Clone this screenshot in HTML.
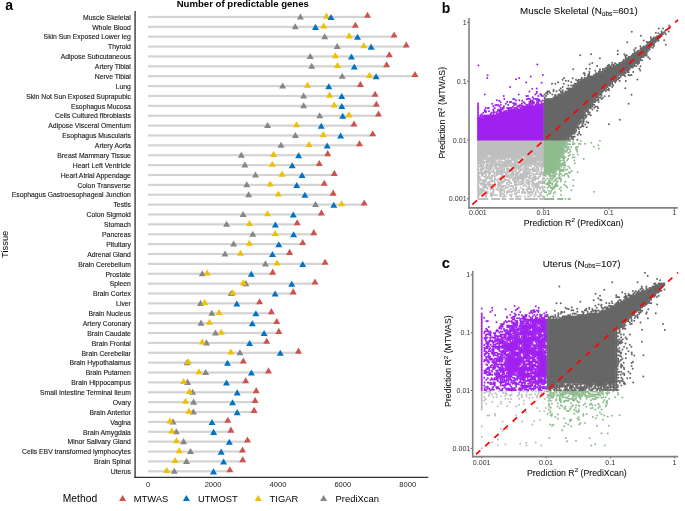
<!DOCTYPE html>
<html><head><meta charset="utf-8"><style>
html,body{margin:0;padding:0;background:#fff;}
svg{display:block;will-change:transform;}
</style></head><body>
<svg width="685" height="511" viewBox="0 0 685 511">
<rect width="685" height="511" fill="#fff"/>
<text x="5.2" y="9.7" font-family="Liberation Sans, sans-serif" font-size="14" font-weight="bold">a</text>
<text x="242.8" y="6.5" font-family="Liberation Sans, sans-serif" font-size="9.6" font-weight="bold" text-anchor="middle">Number of predictable genes</text>
<text x="130.9" y="19.70" font-family="Liberation Sans, sans-serif" font-size="6.84" text-anchor="end" fill="#1a1a1a" stroke="#1a1a1a" stroke-width="0.12">Muscle Skeletal</text>
<text x="130.9" y="29.58" font-family="Liberation Sans, sans-serif" font-size="6.84" text-anchor="end" fill="#1a1a1a" stroke="#1a1a1a" stroke-width="0.12">Whole Blood</text>
<text x="130.9" y="39.45" font-family="Liberation Sans, sans-serif" font-size="6.84" text-anchor="end" fill="#1a1a1a" stroke="#1a1a1a" stroke-width="0.12">Skin Sun Exposed Lower leg</text>
<text x="130.9" y="49.33" font-family="Liberation Sans, sans-serif" font-size="6.84" text-anchor="end" fill="#1a1a1a" stroke="#1a1a1a" stroke-width="0.12">Thyroid</text>
<text x="130.9" y="59.21" font-family="Liberation Sans, sans-serif" font-size="6.84" text-anchor="end" fill="#1a1a1a" stroke="#1a1a1a" stroke-width="0.12">Adipose Subcutaneous</text>
<text x="130.9" y="69.09" font-family="Liberation Sans, sans-serif" font-size="6.84" text-anchor="end" fill="#1a1a1a" stroke="#1a1a1a" stroke-width="0.12">Artery Tibial</text>
<text x="130.9" y="78.96" font-family="Liberation Sans, sans-serif" font-size="6.84" text-anchor="end" fill="#1a1a1a" stroke="#1a1a1a" stroke-width="0.12">Nerve Tibial</text>
<text x="130.9" y="88.84" font-family="Liberation Sans, sans-serif" font-size="6.84" text-anchor="end" fill="#1a1a1a" stroke="#1a1a1a" stroke-width="0.12">Lung</text>
<text x="130.9" y="98.72" font-family="Liberation Sans, sans-serif" font-size="6.84" text-anchor="end" fill="#1a1a1a" stroke="#1a1a1a" stroke-width="0.12">Skin Not Sun Exposed Suprapubic</text>
<text x="130.9" y="108.59" font-family="Liberation Sans, sans-serif" font-size="6.84" text-anchor="end" fill="#1a1a1a" stroke="#1a1a1a" stroke-width="0.12">Esophagus Mucosa</text>
<text x="130.9" y="118.47" font-family="Liberation Sans, sans-serif" font-size="6.84" text-anchor="end" fill="#1a1a1a" stroke="#1a1a1a" stroke-width="0.12">Cells Cultured fibroblasts</text>
<text x="130.9" y="128.35" font-family="Liberation Sans, sans-serif" font-size="6.84" text-anchor="end" fill="#1a1a1a" stroke="#1a1a1a" stroke-width="0.12">Adipose Visceral Omentum</text>
<text x="130.9" y="138.22" font-family="Liberation Sans, sans-serif" font-size="6.84" text-anchor="end" fill="#1a1a1a" stroke="#1a1a1a" stroke-width="0.12">Esophagus Muscularis</text>
<text x="130.9" y="148.10" font-family="Liberation Sans, sans-serif" font-size="6.84" text-anchor="end" fill="#1a1a1a" stroke="#1a1a1a" stroke-width="0.12">Artery Aorta</text>
<text x="130.9" y="157.98" font-family="Liberation Sans, sans-serif" font-size="6.84" text-anchor="end" fill="#1a1a1a" stroke="#1a1a1a" stroke-width="0.12">Breast Mammary Tissue</text>
<text x="130.9" y="167.85" font-family="Liberation Sans, sans-serif" font-size="6.84" text-anchor="end" fill="#1a1a1a" stroke="#1a1a1a" stroke-width="0.12">Heart Left Ventricle</text>
<text x="130.9" y="177.73" font-family="Liberation Sans, sans-serif" font-size="6.84" text-anchor="end" fill="#1a1a1a" stroke="#1a1a1a" stroke-width="0.12">Heart Atrial Appendage</text>
<text x="130.9" y="187.61" font-family="Liberation Sans, sans-serif" font-size="6.84" text-anchor="end" fill="#1a1a1a" stroke="#1a1a1a" stroke-width="0.12">Colon Transverse</text>
<text x="130.9" y="197.49" font-family="Liberation Sans, sans-serif" font-size="6.84" text-anchor="end" fill="#1a1a1a" stroke="#1a1a1a" stroke-width="0.12">Esophagus Gastroesophageal Junction</text>
<text x="130.9" y="207.36" font-family="Liberation Sans, sans-serif" font-size="6.84" text-anchor="end" fill="#1a1a1a" stroke="#1a1a1a" stroke-width="0.12">Testis</text>
<text x="130.9" y="217.24" font-family="Liberation Sans, sans-serif" font-size="6.84" text-anchor="end" fill="#1a1a1a" stroke="#1a1a1a" stroke-width="0.12">Colon Sigmoid</text>
<text x="130.9" y="227.12" font-family="Liberation Sans, sans-serif" font-size="6.84" text-anchor="end" fill="#1a1a1a" stroke="#1a1a1a" stroke-width="0.12">Stomach</text>
<text x="130.9" y="236.99" font-family="Liberation Sans, sans-serif" font-size="6.84" text-anchor="end" fill="#1a1a1a" stroke="#1a1a1a" stroke-width="0.12">Pancreas</text>
<text x="130.9" y="246.87" font-family="Liberation Sans, sans-serif" font-size="6.84" text-anchor="end" fill="#1a1a1a" stroke="#1a1a1a" stroke-width="0.12">Pituitary</text>
<text x="130.9" y="256.75" font-family="Liberation Sans, sans-serif" font-size="6.84" text-anchor="end" fill="#1a1a1a" stroke="#1a1a1a" stroke-width="0.12">Adrenal Gland</text>
<text x="130.9" y="266.62" font-family="Liberation Sans, sans-serif" font-size="6.84" text-anchor="end" fill="#1a1a1a" stroke="#1a1a1a" stroke-width="0.12">Brain Cerebellum</text>
<text x="130.9" y="276.50" font-family="Liberation Sans, sans-serif" font-size="6.84" text-anchor="end" fill="#1a1a1a" stroke="#1a1a1a" stroke-width="0.12">Prostate</text>
<text x="130.9" y="286.38" font-family="Liberation Sans, sans-serif" font-size="6.84" text-anchor="end" fill="#1a1a1a" stroke="#1a1a1a" stroke-width="0.12">Spleen</text>
<text x="130.9" y="296.26" font-family="Liberation Sans, sans-serif" font-size="6.84" text-anchor="end" fill="#1a1a1a" stroke="#1a1a1a" stroke-width="0.12">Brain Cortex</text>
<text x="130.9" y="306.13" font-family="Liberation Sans, sans-serif" font-size="6.84" text-anchor="end" fill="#1a1a1a" stroke="#1a1a1a" stroke-width="0.12">Liver</text>
<text x="130.9" y="316.01" font-family="Liberation Sans, sans-serif" font-size="6.84" text-anchor="end" fill="#1a1a1a" stroke="#1a1a1a" stroke-width="0.12">Brain Nucleus</text>
<text x="130.9" y="325.89" font-family="Liberation Sans, sans-serif" font-size="6.84" text-anchor="end" fill="#1a1a1a" stroke="#1a1a1a" stroke-width="0.12">Artery Coronary</text>
<text x="130.9" y="335.76" font-family="Liberation Sans, sans-serif" font-size="6.84" text-anchor="end" fill="#1a1a1a" stroke="#1a1a1a" stroke-width="0.12">Brain Caudate</text>
<text x="130.9" y="345.64" font-family="Liberation Sans, sans-serif" font-size="6.84" text-anchor="end" fill="#1a1a1a" stroke="#1a1a1a" stroke-width="0.12">Brain Frontal</text>
<text x="130.9" y="355.52" font-family="Liberation Sans, sans-serif" font-size="6.84" text-anchor="end" fill="#1a1a1a" stroke="#1a1a1a" stroke-width="0.12">Brain Cerebellar</text>
<text x="130.9" y="365.40" font-family="Liberation Sans, sans-serif" font-size="6.84" text-anchor="end" fill="#1a1a1a" stroke="#1a1a1a" stroke-width="0.12">Brain Hypothalamus</text>
<text x="130.9" y="375.27" font-family="Liberation Sans, sans-serif" font-size="6.84" text-anchor="end" fill="#1a1a1a" stroke="#1a1a1a" stroke-width="0.12">Brain Putamen</text>
<text x="130.9" y="385.15" font-family="Liberation Sans, sans-serif" font-size="6.84" text-anchor="end" fill="#1a1a1a" stroke="#1a1a1a" stroke-width="0.12">Brain Hippocampus</text>
<text x="130.9" y="395.03" font-family="Liberation Sans, sans-serif" font-size="6.84" text-anchor="end" fill="#1a1a1a" stroke="#1a1a1a" stroke-width="0.12">Small Intestine Terminal Ileum</text>
<text x="130.9" y="404.90" font-family="Liberation Sans, sans-serif" font-size="6.84" text-anchor="end" fill="#1a1a1a" stroke="#1a1a1a" stroke-width="0.12">Ovary</text>
<text x="130.9" y="414.78" font-family="Liberation Sans, sans-serif" font-size="6.84" text-anchor="end" fill="#1a1a1a" stroke="#1a1a1a" stroke-width="0.12">Brain Anterior</text>
<text x="130.9" y="424.66" font-family="Liberation Sans, sans-serif" font-size="6.84" text-anchor="end" fill="#1a1a1a" stroke="#1a1a1a" stroke-width="0.12">Vagina</text>
<text x="130.9" y="434.53" font-family="Liberation Sans, sans-serif" font-size="6.84" text-anchor="end" fill="#1a1a1a" stroke="#1a1a1a" stroke-width="0.12">Brain Amygdala</text>
<text x="130.9" y="444.41" font-family="Liberation Sans, sans-serif" font-size="6.84" text-anchor="end" fill="#1a1a1a" stroke="#1a1a1a" stroke-width="0.12">Minor Salivary Gland</text>
<text x="130.9" y="454.29" font-family="Liberation Sans, sans-serif" font-size="6.84" text-anchor="end" fill="#1a1a1a" stroke="#1a1a1a" stroke-width="0.12">Cells EBV transformed lymphocytes</text>
<text x="130.9" y="464.17" font-family="Liberation Sans, sans-serif" font-size="6.84" text-anchor="end" fill="#1a1a1a" stroke="#1a1a1a" stroke-width="0.12">Brain Spinal</text>
<text x="130.9" y="474.04" font-family="Liberation Sans, sans-serif" font-size="6.84" text-anchor="end" fill="#1a1a1a" stroke="#1a1a1a" stroke-width="0.12">Uterus</text>
<rect x="148.1" y="15.85" width="219.40" height="2.2" fill="#d3d3d3"/>
<rect x="148.1" y="25.73" width="207.30" height="2.2" fill="#d3d3d3"/>
<rect x="148.1" y="35.60" width="246.00" height="2.2" fill="#d3d3d3"/>
<rect x="148.1" y="45.48" width="258.20" height="2.2" fill="#d3d3d3"/>
<rect x="148.1" y="55.36" width="241.20" height="2.2" fill="#d3d3d3"/>
<rect x="148.1" y="65.24" width="238.50" height="2.2" fill="#d3d3d3"/>
<rect x="148.1" y="75.11" width="266.90" height="2.2" fill="#d3d3d3"/>
<rect x="148.1" y="84.99" width="212.30" height="2.2" fill="#d3d3d3"/>
<rect x="148.1" y="94.87" width="227.00" height="2.2" fill="#d3d3d3"/>
<rect x="148.1" y="104.74" width="228.30" height="2.2" fill="#d3d3d3"/>
<rect x="148.1" y="114.62" width="230.40" height="2.2" fill="#d3d3d3"/>
<rect x="148.1" y="124.50" width="205.90" height="2.2" fill="#d3d3d3"/>
<rect x="148.1" y="134.37" width="224.60" height="2.2" fill="#d3d3d3"/>
<rect x="148.1" y="144.25" width="211.40" height="2.2" fill="#d3d3d3"/>
<rect x="148.1" y="154.13" width="179.60" height="2.2" fill="#d3d3d3"/>
<rect x="148.1" y="164.00" width="171.20" height="2.2" fill="#d3d3d3"/>
<rect x="148.1" y="173.88" width="186.20" height="2.2" fill="#d3d3d3"/>
<rect x="148.1" y="183.76" width="176.20" height="2.2" fill="#d3d3d3"/>
<rect x="148.1" y="193.64" width="185.10" height="2.2" fill="#d3d3d3"/>
<rect x="148.1" y="203.51" width="216.10" height="2.2" fill="#d3d3d3"/>
<rect x="148.1" y="213.39" width="173.30" height="2.2" fill="#d3d3d3"/>
<rect x="148.1" y="223.27" width="149.10" height="2.2" fill="#d3d3d3"/>
<rect x="148.1" y="233.14" width="165.70" height="2.2" fill="#d3d3d3"/>
<rect x="148.1" y="243.02" width="154.60" height="2.2" fill="#d3d3d3"/>
<rect x="148.1" y="252.90" width="141.50" height="2.2" fill="#d3d3d3"/>
<rect x="148.1" y="262.77" width="177.00" height="2.2" fill="#d3d3d3"/>
<rect x="148.1" y="272.65" width="124.60" height="2.2" fill="#d3d3d3"/>
<rect x="148.1" y="282.53" width="166.90" height="2.2" fill="#d3d3d3"/>
<rect x="148.1" y="292.41" width="145.10" height="2.2" fill="#d3d3d3"/>
<rect x="148.1" y="302.28" width="111.50" height="2.2" fill="#d3d3d3"/>
<rect x="148.1" y="312.16" width="123.30" height="2.2" fill="#d3d3d3"/>
<rect x="148.1" y="322.04" width="128.60" height="2.2" fill="#d3d3d3"/>
<rect x="148.1" y="331.91" width="130.70" height="2.2" fill="#d3d3d3"/>
<rect x="148.1" y="341.79" width="118.60" height="2.2" fill="#d3d3d3"/>
<rect x="148.1" y="351.67" width="150.40" height="2.2" fill="#d3d3d3"/>
<rect x="148.1" y="361.55" width="95.20" height="2.2" fill="#d3d3d3"/>
<rect x="148.1" y="371.42" width="120.40" height="2.2" fill="#d3d3d3"/>
<rect x="148.1" y="381.30" width="97.60" height="2.2" fill="#d3d3d3"/>
<rect x="148.1" y="391.18" width="108.10" height="2.2" fill="#d3d3d3"/>
<rect x="148.1" y="401.05" width="107.00" height="2.2" fill="#d3d3d3"/>
<rect x="148.1" y="410.93" width="106.00" height="2.2" fill="#d3d3d3"/>
<rect x="148.1" y="420.81" width="79.70" height="2.2" fill="#d3d3d3"/>
<rect x="148.1" y="430.68" width="82.80" height="2.2" fill="#d3d3d3"/>
<rect x="148.1" y="440.56" width="99.40" height="2.2" fill="#d3d3d3"/>
<rect x="148.1" y="450.44" width="94.40" height="2.2" fill="#d3d3d3"/>
<rect x="148.1" y="460.31" width="94.60" height="2.2" fill="#d3d3d3"/>
<rect x="148.1" y="470.19" width="81.80" height="2.2" fill="#d3d3d3"/>
<path d="M296.90 19.45L303.90 19.45L300.40 13.39Z" fill="#868686"/>
<path d="M323.10 18.65L330.10 18.65L326.60 12.59Z" fill="#EFC000"/>
<path d="M327.50 20.05L334.50 20.05L331.00 13.99Z" fill="#0073C2"/>
<path d="M364.00 17.85L371.00 17.85L367.50 11.79Z" fill="#CD534C"/>
<path d="M291.70 29.33L298.70 29.33L295.20 23.27Z" fill="#868686"/>
<path d="M320.10 28.53L327.10 28.53L323.60 22.47Z" fill="#EFC000"/>
<path d="M312.00 29.93L319.00 29.93L315.50 23.87Z" fill="#0073C2"/>
<path d="M351.90 27.73L358.90 27.73L355.40 21.67Z" fill="#CD534C"/>
<path d="M321.20 39.20L328.20 39.20L324.70 33.14Z" fill="#868686"/>
<path d="M345.70 38.40L352.70 38.40L349.20 32.34Z" fill="#EFC000"/>
<path d="M354.00 39.80L361.00 39.80L357.50 33.74Z" fill="#0073C2"/>
<path d="M390.60 37.60L397.60 37.60L394.10 31.54Z" fill="#CD534C"/>
<path d="M333.70 49.08L340.70 49.08L337.20 43.02Z" fill="#868686"/>
<path d="M360.30 48.28L367.30 48.28L363.80 42.22Z" fill="#EFC000"/>
<path d="M367.60 49.68L374.60 49.68L371.10 43.62Z" fill="#0073C2"/>
<path d="M402.80 47.48L409.80 47.48L406.30 41.42Z" fill="#CD534C"/>
<path d="M306.70 58.96L313.70 58.96L310.20 52.90Z" fill="#868686"/>
<path d="M331.90 58.16L338.90 58.16L335.40 52.10Z" fill="#EFC000"/>
<path d="M347.90 59.56L354.90 59.56L351.40 53.50Z" fill="#0073C2"/>
<path d="M385.80 57.36L392.80 57.36L389.30 51.30Z" fill="#CD534C"/>
<path d="M308.20 68.84L315.20 68.84L311.70 62.78Z" fill="#868686"/>
<path d="M334.00 68.04L341.00 68.04L337.50 61.98Z" fill="#EFC000"/>
<path d="M350.80 69.44L357.80 69.44L354.30 63.38Z" fill="#0073C2"/>
<path d="M383.10 67.24L390.10 67.24L386.60 61.18Z" fill="#CD534C"/>
<path d="M338.70 78.71L345.70 78.71L342.20 72.65Z" fill="#868686"/>
<path d="M366.00 77.91L373.00 77.91L369.50 71.85Z" fill="#EFC000"/>
<path d="M372.60 79.31L379.60 79.31L376.10 73.25Z" fill="#0073C2"/>
<path d="M411.50 77.11L418.50 77.11L415.00 71.05Z" fill="#CD534C"/>
<path d="M279.10 88.59L286.10 88.59L282.60 82.53Z" fill="#868686"/>
<path d="M304.00 87.79L311.00 87.79L307.50 81.73Z" fill="#EFC000"/>
<path d="M325.30 89.19L332.30 89.19L328.80 83.13Z" fill="#0073C2"/>
<path d="M356.90 86.99L363.90 86.99L360.40 80.93Z" fill="#CD534C"/>
<path d="M300.10 98.47L307.10 98.47L303.60 92.41Z" fill="#868686"/>
<path d="M326.10 97.67L333.10 97.67L329.60 91.61Z" fill="#EFC000"/>
<path d="M338.20 99.07L345.20 99.07L341.70 93.01Z" fill="#0073C2"/>
<path d="M371.60 96.87L378.60 96.87L375.10 90.81Z" fill="#CD534C"/>
<path d="M300.10 108.34L307.10 108.34L303.60 102.28Z" fill="#868686"/>
<path d="M330.70 107.54L337.70 107.54L334.20 101.48Z" fill="#EFC000"/>
<path d="M338.30 108.94L345.30 108.94L341.80 102.88Z" fill="#0073C2"/>
<path d="M372.90 106.74L379.90 106.74L376.40 100.68Z" fill="#CD534C"/>
<path d="M316.20 118.22L323.20 118.22L319.70 112.16Z" fill="#868686"/>
<path d="M345.50 117.42L352.50 117.42L349.00 111.36Z" fill="#EFC000"/>
<path d="M339.20 118.82L346.20 118.82L342.70 112.76Z" fill="#0073C2"/>
<path d="M375.00 116.62L382.00 116.62L378.50 110.56Z" fill="#CD534C"/>
<path d="M264.10 128.10L271.10 128.10L267.60 122.04Z" fill="#868686"/>
<path d="M293.00 127.30L300.00 127.30L296.50 121.24Z" fill="#EFC000"/>
<path d="M317.70 128.70L324.70 128.70L321.20 122.64Z" fill="#0073C2"/>
<path d="M350.50 126.50L357.50 126.50L354.00 120.44Z" fill="#CD534C"/>
<path d="M291.90 137.97L298.90 137.97L295.40 131.91Z" fill="#868686"/>
<path d="M319.80 137.17L326.80 137.17L323.30 131.11Z" fill="#EFC000"/>
<path d="M337.10 138.57L344.10 138.57L340.60 132.51Z" fill="#0073C2"/>
<path d="M369.20 136.37L376.20 136.37L372.70 130.31Z" fill="#CD534C"/>
<path d="M277.50 147.85L284.50 147.85L281.00 141.79Z" fill="#868686"/>
<path d="M305.60 147.05L312.60 147.05L309.10 140.99Z" fill="#EFC000"/>
<path d="M323.70 148.45L330.70 148.45L327.20 142.39Z" fill="#0073C2"/>
<path d="M356.00 146.25L363.00 146.25L359.50 140.19Z" fill="#CD534C"/>
<path d="M237.80 157.73L244.80 157.73L241.30 151.67Z" fill="#868686"/>
<path d="M270.10 156.93L277.10 156.93L273.60 150.87Z" fill="#EFC000"/>
<path d="M295.10 158.33L302.10 158.33L298.60 152.27Z" fill="#0073C2"/>
<path d="M324.20 156.13L331.20 156.13L327.70 150.07Z" fill="#CD534C"/>
<path d="M241.40 167.60L248.40 167.60L244.90 161.54Z" fill="#868686"/>
<path d="M268.80 166.80L275.80 166.80L272.30 160.74Z" fill="#EFC000"/>
<path d="M288.70 168.20L295.70 168.20L292.20 162.14Z" fill="#0073C2"/>
<path d="M315.80 166.00L322.80 166.00L319.30 159.94Z" fill="#CD534C"/>
<path d="M252.00 177.48L259.00 177.48L255.50 171.42Z" fill="#868686"/>
<path d="M278.50 176.68L285.50 176.68L282.00 170.62Z" fill="#EFC000"/>
<path d="M298.50 178.08L305.50 178.08L302.00 172.02Z" fill="#0073C2"/>
<path d="M330.80 175.88L337.80 175.88L334.30 169.82Z" fill="#CD534C"/>
<path d="M243.30 187.36L250.30 187.36L246.80 181.30Z" fill="#868686"/>
<path d="M266.70 186.56L273.70 186.56L270.20 180.50Z" fill="#EFC000"/>
<path d="M293.20 187.96L300.20 187.96L296.70 181.90Z" fill="#0073C2"/>
<path d="M320.80 185.76L327.80 185.76L324.30 179.70Z" fill="#CD534C"/>
<path d="M245.10 197.24L252.10 197.24L248.60 191.18Z" fill="#868686"/>
<path d="M274.80 196.44L281.80 196.44L278.30 190.38Z" fill="#EFC000"/>
<path d="M301.40 197.84L308.40 197.84L304.90 191.78Z" fill="#0073C2"/>
<path d="M329.70 195.64L336.70 195.64L333.20 189.58Z" fill="#CD534C"/>
<path d="M312.10 207.11L319.10 207.11L315.60 201.05Z" fill="#868686"/>
<path d="M338.10 206.31L345.10 206.31L341.60 200.25Z" fill="#EFC000"/>
<path d="M330.30 207.71L337.30 207.71L333.80 201.65Z" fill="#0073C2"/>
<path d="M360.70 205.51L367.70 205.51L364.20 199.45Z" fill="#CD534C"/>
<path d="M239.60 216.99L246.60 216.99L243.10 210.93Z" fill="#868686"/>
<path d="M264.00 216.19L271.00 216.19L267.50 210.13Z" fill="#EFC000"/>
<path d="M289.80 217.59L296.80 217.59L293.30 211.53Z" fill="#0073C2"/>
<path d="M317.90 215.39L324.90 215.39L321.40 209.33Z" fill="#CD534C"/>
<path d="M223.10 226.87L230.10 226.87L226.60 220.81Z" fill="#868686"/>
<path d="M245.90 226.07L252.90 226.07L249.40 220.01Z" fill="#EFC000"/>
<path d="M271.90 227.47L278.90 227.47L275.40 221.41Z" fill="#0073C2"/>
<path d="M293.70 225.27L300.70 225.27L297.20 219.21Z" fill="#CD534C"/>
<path d="M249.30 236.74L256.30 236.74L252.80 230.68Z" fill="#868686"/>
<path d="M271.70 235.94L278.70 235.94L275.20 229.88Z" fill="#EFC000"/>
<path d="M290.10 237.34L297.10 237.34L293.60 231.28Z" fill="#0073C2"/>
<path d="M310.30 235.14L317.30 235.14L313.80 229.08Z" fill="#CD534C"/>
<path d="M230.10 246.62L237.10 246.62L233.60 240.56Z" fill="#868686"/>
<path d="M245.90 245.82L252.90 245.82L249.40 239.76Z" fill="#EFC000"/>
<path d="M275.30 247.22L282.30 247.22L278.80 241.16Z" fill="#0073C2"/>
<path d="M299.20 245.02L306.20 245.02L302.70 238.96Z" fill="#CD534C"/>
<path d="M221.50 256.50L228.50 256.50L225.00 250.44Z" fill="#868686"/>
<path d="M237.00 255.70L244.00 255.70L240.50 249.64Z" fill="#EFC000"/>
<path d="M269.00 257.10L276.00 257.10L272.50 251.04Z" fill="#0073C2"/>
<path d="M286.10 254.90L293.10 254.90L289.60 248.84Z" fill="#CD534C"/>
<path d="M261.90 266.38L268.90 266.38L265.40 260.31Z" fill="#868686"/>
<path d="M273.50 265.57L280.50 265.57L277.00 259.51Z" fill="#EFC000"/>
<path d="M299.20 266.98L306.20 266.98L302.70 260.92Z" fill="#0073C2"/>
<path d="M321.60 264.77L328.60 264.77L325.10 258.71Z" fill="#CD534C"/>
<path d="M198.80 276.25L205.80 276.25L202.30 270.19Z" fill="#868686"/>
<path d="M203.70 275.45L210.70 275.45L207.20 269.39Z" fill="#EFC000"/>
<path d="M247.80 276.85L254.80 276.85L251.30 270.79Z" fill="#0073C2"/>
<path d="M269.20 274.65L276.20 274.65L272.70 268.59Z" fill="#CD534C"/>
<path d="M242.30 286.13L249.30 286.13L245.80 280.07Z" fill="#868686"/>
<path d="M239.80 285.33L246.80 285.33L243.30 279.27Z" fill="#EFC000"/>
<path d="M288.20 286.73L295.20 286.73L291.70 280.67Z" fill="#0073C2"/>
<path d="M311.50 284.53L318.50 284.53L315.00 278.47Z" fill="#CD534C"/>
<path d="M227.70 296.01L234.70 296.01L231.20 289.95Z" fill="#868686"/>
<path d="M229.40 295.21L236.40 295.21L232.90 289.15Z" fill="#EFC000"/>
<path d="M271.60 296.61L278.60 296.61L275.10 290.55Z" fill="#0073C2"/>
<path d="M289.70 294.41L296.70 294.41L293.20 288.35Z" fill="#CD534C"/>
<path d="M197.00 305.88L204.00 305.88L200.50 299.82Z" fill="#868686"/>
<path d="M201.20 305.08L208.20 305.08L204.70 299.02Z" fill="#EFC000"/>
<path d="M233.30 306.48L240.30 306.48L236.80 300.42Z" fill="#0073C2"/>
<path d="M256.10 304.28L263.10 304.28L259.60 298.22Z" fill="#CD534C"/>
<path d="M208.30 315.76L215.30 315.76L211.80 309.70Z" fill="#868686"/>
<path d="M215.60 314.96L222.60 314.96L219.10 308.90Z" fill="#EFC000"/>
<path d="M252.40 316.36L259.40 316.36L255.90 310.30Z" fill="#0073C2"/>
<path d="M267.90 314.16L274.90 314.16L271.40 308.10Z" fill="#CD534C"/>
<path d="M197.50 325.64L204.50 325.64L201.00 319.58Z" fill="#868686"/>
<path d="M205.90 324.84L212.90 324.84L209.40 318.78Z" fill="#EFC000"/>
<path d="M248.80 326.24L255.80 326.24L252.30 320.18Z" fill="#0073C2"/>
<path d="M273.20 324.04L280.20 324.04L276.70 317.98Z" fill="#CD534C"/>
<path d="M212.00 335.51L219.00 335.51L215.50 329.45Z" fill="#868686"/>
<path d="M217.80 334.71L224.80 334.71L221.30 328.65Z" fill="#EFC000"/>
<path d="M260.60 336.11L267.60 336.11L264.10 330.05Z" fill="#0073C2"/>
<path d="M275.30 333.91L282.30 333.91L278.80 327.85Z" fill="#CD534C"/>
<path d="M203.00 345.39L210.00 345.39L206.50 339.33Z" fill="#868686"/>
<path d="M198.80 344.59L205.80 344.59L202.30 338.53Z" fill="#EFC000"/>
<path d="M246.10 345.99L253.10 345.99L249.60 339.93Z" fill="#0073C2"/>
<path d="M263.20 343.79L270.20 343.79L266.70 337.73Z" fill="#CD534C"/>
<path d="M236.40 355.27L243.40 355.27L239.90 349.21Z" fill="#868686"/>
<path d="M227.40 354.47L234.40 354.47L230.90 348.41Z" fill="#EFC000"/>
<path d="M276.80 355.87L283.80 355.87L280.30 349.81Z" fill="#0073C2"/>
<path d="M295.00 353.67L302.00 353.67L298.50 347.61Z" fill="#CD534C"/>
<path d="M183.60 365.15L190.60 365.15L187.10 359.09Z" fill="#868686"/>
<path d="M184.90 364.35L191.90 364.35L188.40 358.29Z" fill="#EFC000"/>
<path d="M224.00 365.75L231.00 365.75L227.50 359.69Z" fill="#0073C2"/>
<path d="M239.80 363.55L246.80 363.55L243.30 357.49Z" fill="#CD534C"/>
<path d="M202.20 375.02L209.20 375.02L205.70 368.96Z" fill="#868686"/>
<path d="M195.40 374.22L202.40 374.22L198.90 368.16Z" fill="#EFC000"/>
<path d="M247.90 375.62L254.90 375.62L251.40 369.56Z" fill="#0073C2"/>
<path d="M265.00 373.42L272.00 373.42L268.50 367.36Z" fill="#CD534C"/>
<path d="M184.10 384.90L191.10 384.90L187.60 378.84Z" fill="#868686"/>
<path d="M180.10 384.10L187.10 384.10L183.60 378.04Z" fill="#EFC000"/>
<path d="M223.00 385.50L230.00 385.50L226.50 379.44Z" fill="#0073C2"/>
<path d="M242.20 383.30L249.20 383.30L245.70 377.24Z" fill="#CD534C"/>
<path d="M189.10 394.78L196.10 394.78L192.60 388.72Z" fill="#868686"/>
<path d="M185.90 393.98L192.90 393.98L189.40 387.92Z" fill="#EFC000"/>
<path d="M233.70 395.38L240.70 395.38L237.20 389.32Z" fill="#0073C2"/>
<path d="M252.70 393.18L259.70 393.18L256.20 387.12Z" fill="#CD534C"/>
<path d="M190.10 404.65L197.10 404.65L193.60 398.59Z" fill="#868686"/>
<path d="M182.00 403.85L189.00 403.85L185.50 397.79Z" fill="#EFC000"/>
<path d="M229.00 405.25L236.00 405.25L232.50 399.19Z" fill="#0073C2"/>
<path d="M251.60 403.05L258.60 403.05L255.10 396.99Z" fill="#CD534C"/>
<path d="M189.90 414.53L196.90 414.53L193.40 408.47Z" fill="#868686"/>
<path d="M185.40 413.73L192.40 413.73L188.90 407.67Z" fill="#EFC000"/>
<path d="M233.70 415.13L240.70 415.13L237.20 409.07Z" fill="#0073C2"/>
<path d="M250.60 412.93L257.60 412.93L254.10 406.87Z" fill="#CD534C"/>
<path d="M169.60 424.41L176.60 424.41L173.10 418.35Z" fill="#868686"/>
<path d="M166.50 423.61L173.50 423.61L170.00 417.55Z" fill="#EFC000"/>
<path d="M208.50 425.01L215.50 425.01L212.00 418.95Z" fill="#0073C2"/>
<path d="M224.30 422.81L231.30 422.81L227.80 416.75Z" fill="#CD534C"/>
<path d="M172.80 434.28L179.80 434.28L176.30 428.22Z" fill="#868686"/>
<path d="M168.30 433.48L175.30 433.48L171.80 427.42Z" fill="#EFC000"/>
<path d="M210.10 434.88L217.10 434.88L213.60 428.82Z" fill="#0073C2"/>
<path d="M227.40 432.68L234.40 432.68L230.90 426.62Z" fill="#CD534C"/>
<path d="M180.10 444.16L187.10 444.16L183.60 438.10Z" fill="#868686"/>
<path d="M173.00 443.36L180.00 443.36L176.50 437.30Z" fill="#EFC000"/>
<path d="M225.80 444.76L232.80 444.76L229.30 438.70Z" fill="#0073C2"/>
<path d="M244.00 442.56L251.00 442.56L247.50 436.50Z" fill="#CD534C"/>
<path d="M187.00 454.04L194.00 454.04L190.50 447.98Z" fill="#868686"/>
<path d="M175.70 453.24L182.70 453.24L179.20 447.18Z" fill="#EFC000"/>
<path d="M217.70 454.64L224.70 454.64L221.20 448.58Z" fill="#0073C2"/>
<path d="M239.00 452.44L246.00 452.44L242.50 446.38Z" fill="#CD534C"/>
<path d="M183.00 463.92L190.00 463.92L186.50 457.86Z" fill="#868686"/>
<path d="M171.50 463.12L178.50 463.12L175.00 457.06Z" fill="#EFC000"/>
<path d="M220.10 464.52L227.10 464.52L223.60 458.46Z" fill="#0073C2"/>
<path d="M239.20 462.31L246.20 462.31L242.70 456.25Z" fill="#CD534C"/>
<path d="M170.80 473.79L177.80 473.79L174.30 467.73Z" fill="#868686"/>
<path d="M163.20 472.99L170.20 472.99L166.70 466.93Z" fill="#EFC000"/>
<path d="M210.00 474.39L217.00 474.39L213.50 468.33Z" fill="#0073C2"/>
<path d="M226.40 472.19L233.40 472.19L229.90 466.13Z" fill="#CD534C"/>
<line x1="135.1" y1="11" x2="135.1" y2="477.4" stroke="#555" stroke-width="1.6"/>
<line x1="134.3" y1="477.4" x2="428.3" y2="477.4" stroke="#333" stroke-width="1.1"/>
<text x="148.20" y="486.8" font-family="Liberation Sans, sans-serif" font-size="7.55" text-anchor="middle" fill="#222">0</text>
<text x="213.07" y="486.8" font-family="Liberation Sans, sans-serif" font-size="7.55" text-anchor="middle" fill="#222">2000</text>
<text x="277.95" y="486.8" font-family="Liberation Sans, sans-serif" font-size="7.55" text-anchor="middle" fill="#222">4000</text>
<text x="342.82" y="486.8" font-family="Liberation Sans, sans-serif" font-size="7.55" text-anchor="middle" fill="#222">6000</text>
<text x="407.70" y="486.8" font-family="Liberation Sans, sans-serif" font-size="7.55" text-anchor="middle" fill="#222">8000</text>
<text transform="translate(8.0,244.3) rotate(-90)" font-family="Liberation Sans, sans-serif" font-size="9.4" text-anchor="middle">Tissue</text>
<text x="62.8" y="502.1" font-family="Liberation Sans, sans-serif" font-size="10.3">Method</text>
<path d="M119.10 501.00L126.10 501.00L122.60 494.94Z" fill="#CD534C"/>
<text x="133.7" y="502.1" font-family="Liberation Sans, sans-serif" font-size="9.4">MTWAS</text>
<path d="M182.90 501.00L189.90 501.00L186.40 494.94Z" fill="#0073C2"/>
<text x="198.1" y="502.1" font-family="Liberation Sans, sans-serif" font-size="9.4">UTMOST</text>
<path d="M254.70 501.00L261.70 501.00L258.20 494.94Z" fill="#EFC000"/>
<text x="269.6" y="502.1" font-family="Liberation Sans, sans-serif" font-size="9.4">TIGAR</text>
<path d="M320.10 501.00L327.10 501.00L323.60 494.94Z" fill="#868686"/>
<text x="335.6" y="502.1" font-family="Liberation Sans, sans-serif" font-size="9.4">PrediXcan</text>
<text x="441.8" y="12.8" font-family="Liberation Sans, sans-serif" font-size="14" font-weight="bold">b</text>
<text x="520.1" y="13.9" font-family="Liberation Sans, sans-serif" font-size="9.8" fill="#111" stroke="#111" stroke-width="0.08">Muscle Skeletal (N<tspan font-size="6.6" dy="1.8">obs</tspan><tspan dy="-1.8">=601)</tspan></text>
<line x1="467.0" y1="22.40" x2="469.0" y2="22.40" stroke="#333" stroke-width="0.8"/>
<text x="466.6" y="24.85" font-family="Liberation Sans, sans-serif" font-size="7.1" text-anchor="end" fill="#333">1</text>
<line x1="674.40" y1="207.9" x2="674.40" y2="209.70000000000002" stroke="#333" stroke-width="0.8"/>
<text x="674.40" y="214.8" font-family="Liberation Sans, sans-serif" font-size="7.1" text-anchor="middle" fill="#333">1</text>
<line x1="467.0" y1="81.23" x2="469.0" y2="81.23" stroke="#333" stroke-width="0.8"/>
<text x="466.6" y="83.68" font-family="Liberation Sans, sans-serif" font-size="7.1" text-anchor="end" fill="#333">0.1</text>
<line x1="608.90" y1="207.9" x2="608.90" y2="209.70000000000002" stroke="#333" stroke-width="0.8"/>
<text x="608.90" y="214.8" font-family="Liberation Sans, sans-serif" font-size="7.1" text-anchor="middle" fill="#333">0.1</text>
<line x1="467.0" y1="140.06" x2="469.0" y2="140.06" stroke="#333" stroke-width="0.8"/>
<text x="466.6" y="142.51" font-family="Liberation Sans, sans-serif" font-size="7.1" text-anchor="end" fill="#333">0.01</text>
<line x1="543.40" y1="207.9" x2="543.40" y2="209.70000000000002" stroke="#333" stroke-width="0.8"/>
<text x="543.40" y="214.8" font-family="Liberation Sans, sans-serif" font-size="7.1" text-anchor="middle" fill="#333">0.01</text>
<line x1="467.0" y1="198.89" x2="469.0" y2="198.89" stroke="#333" stroke-width="0.8"/>
<text x="466.6" y="201.34" font-family="Liberation Sans, sans-serif" font-size="7.1" text-anchor="end" fill="#333">0.001</text>
<line x1="477.90" y1="207.9" x2="477.90" y2="209.70000000000002" stroke="#333" stroke-width="0.8"/>
<text x="477.90" y="214.8" font-family="Liberation Sans, sans-serif" font-size="7.1" text-anchor="middle" fill="#333">0.001</text>
<line x1="469.0" y1="18.1" x2="469.0" y2="208.70000000000002" stroke="#808080" stroke-width="1.6"/>
<line x1="468.2" y1="207.9" x2="677.8" y2="207.9" stroke="#808080" stroke-width="1.6"/>
<text x="573.60" y="225.6" font-family="Liberation Sans, sans-serif" font-size="8.75" text-anchor="middle" fill="#111" stroke="#111" stroke-width="0.08">Prediction R<tspan font-size="6.2" dy="-3.3">2</tspan><tspan dy="3.3"> (PrediXcan)</tspan></text>
<text transform="translate(445.0,112.75) rotate(-90)" font-family="Liberation Sans, sans-serif" font-size="8.75" text-anchor="middle" fill="#111" stroke="#111" stroke-width="0.08">Prediction R<tspan font-size="6.2" dy="-3.3">2</tspan><tspan dy="3.3"> (MTWAS)</tspan></text>
<text x="441.8" y="268.4" font-family="Liberation Sans, sans-serif" font-size="14.8" font-weight="bold">c</text>
<text x="542.7" y="266.5" font-family="Liberation Sans, sans-serif" font-size="9.8" fill="#111" stroke="#111" stroke-width="0.08">Uterus (N<tspan font-size="6.6" dy="1.8">obs</tspan><tspan dy="-1.8">=107)</tspan></text>
<line x1="470.7" y1="274.90" x2="472.7" y2="274.90" stroke="#333" stroke-width="0.8"/>
<text x="470.3" y="277.35" font-family="Liberation Sans, sans-serif" font-size="7.1" text-anchor="end" fill="#333">1</text>
<line x1="674.60" y1="456.6" x2="674.60" y2="458.40000000000003" stroke="#333" stroke-width="0.8"/>
<text x="674.60" y="464.5" font-family="Liberation Sans, sans-serif" font-size="7.1" text-anchor="middle" fill="#333">1</text>
<line x1="470.7" y1="332.73" x2="472.7" y2="332.73" stroke="#333" stroke-width="0.8"/>
<text x="470.3" y="335.18" font-family="Liberation Sans, sans-serif" font-size="7.1" text-anchor="end" fill="#333">0.1</text>
<line x1="610.30" y1="456.6" x2="610.30" y2="458.40000000000003" stroke="#333" stroke-width="0.8"/>
<text x="610.30" y="464.5" font-family="Liberation Sans, sans-serif" font-size="7.1" text-anchor="middle" fill="#333">0.1</text>
<line x1="470.7" y1="390.56" x2="472.7" y2="390.56" stroke="#333" stroke-width="0.8"/>
<text x="470.3" y="393.01" font-family="Liberation Sans, sans-serif" font-size="7.1" text-anchor="end" fill="#333">0.01</text>
<line x1="546.00" y1="456.6" x2="546.00" y2="458.40000000000003" stroke="#333" stroke-width="0.8"/>
<text x="546.00" y="464.5" font-family="Liberation Sans, sans-serif" font-size="7.1" text-anchor="middle" fill="#333">0.01</text>
<line x1="470.7" y1="448.39" x2="472.7" y2="448.39" stroke="#333" stroke-width="0.8"/>
<text x="470.3" y="450.84" font-family="Liberation Sans, sans-serif" font-size="7.1" text-anchor="end" fill="#333">0.001</text>
<line x1="481.70" y1="456.6" x2="481.70" y2="458.40000000000003" stroke="#333" stroke-width="0.8"/>
<text x="481.70" y="464.5" font-family="Liberation Sans, sans-serif" font-size="7.1" text-anchor="middle" fill="#333">0.001</text>
<line x1="472.7" y1="270.9" x2="472.7" y2="457.40000000000003" stroke="#808080" stroke-width="1.6"/>
<line x1="471.9" y1="456.6" x2="678.1" y2="456.6" stroke="#808080" stroke-width="1.6"/>
<text x="576.85" y="475.6" font-family="Liberation Sans, sans-serif" font-size="8.75" text-anchor="middle" fill="#111" stroke="#111" stroke-width="0.08">Prediction R<tspan font-size="6.2" dy="-3.3">2</tspan><tspan dy="3.3"> (PrediXcan)</tspan></text>
<text transform="translate(451.0,361.1) rotate(-90)" font-family="Liberation Sans, sans-serif" font-size="8.75" text-anchor="middle" fill="#111" stroke="#111" stroke-width="0.08">Prediction R<tspan font-size="6.2" dy="-3.3">2</tspan><tspan dy="3.3"> (MTWAS)</tspan></text>
<path fill="#BEBEBE" d="M477.6 152.1h66.3v1.8h-66.3zM477.6 155.1h9.3v1.8h-9.3zM491.1 155.1h30.3v1.8h-30.3zM525.6 155.1h6.3v1.8h-6.3zM536.1 155.1h7.8v1.8h-7.8zM477.6 149.1h66.3v1.8h-66.3zM486.6 165.6h4.8v1.8h-4.8zM500.1 165.6h3.3v1.8h-3.3zM513.6 165.6h6.3v1.8h-6.3zM525.6 165.6h1.8v1.8h-1.8zM477.6 159.6h4.8v1.8h-4.8zM486.6 159.6h7.8v1.8h-7.8zM515.1 159.6h1.8v1.8h-1.8zM521.1 159.6h15.3v1.8h-15.3zM503.1 162.6h6.3v1.8h-6.3zM515.1 162.6h1.8v1.8h-1.8zM521.1 162.6h9.3v1.8h-9.3zM534.6 162.6h1.8v1.8h-1.8zM477.6 153.6h9.3v1.8h-9.3zM491.1 153.6h40.8v1.8h-40.8zM536.1 153.6h7.8v1.8h-7.8zM477.6 147.6h66.3v1.8h-66.3zM477.6 150.6h66.3v1.8h-66.3zM477.6 141.6h66.3v1.8h-66.3zM477.6 161.1h3.3v1.8h-3.3zM491.1 161.1h3.3v1.8h-3.3zM506.1 161.1h4.8v1.8h-4.8zM515.1 161.1h1.8v1.8h-1.8zM521.1 161.1h15.3v1.8h-15.3zM477.6 144.6h66.3v1.8h-66.3zM477.6 158.1h4.8v1.8h-4.8zM486.6 158.1h7.8v1.8h-7.8zM512.1 158.1h4.8v1.8h-4.8zM525.6 158.1h18.3v1.8h-18.3zM503.1 164.1h3.3v1.8h-3.3zM513.6 164.1h3.3v1.8h-3.3zM525.6 164.1h1.8v1.8h-1.8zM540.6 164.1h3.3v1.8h-3.3zM477.6 143.1h66.3v1.8h-66.3zM477.6 146.1h66.3v1.8h-66.3zM477.6 140.1h66.3v1.8h-66.3zM477.6 156.6h9.3v1.8h-9.3zM491.1 156.6h13.8v1.8h-13.8zM512.1 156.6h9.3v1.8h-9.3zM525.6 156.6h6.3v1.8h-6.3zM536.1 156.6h7.8v1.8h-7.8zM516.6 176.1h7.8v1.8h-7.8zM521.1 174.6h4.8v1.8h-4.8zM501.6 170.1h1.8v1.8h-1.8zM524.1 173.1h1.8v1.8h-1.8zM501.6 168.6h1.8v1.8h-1.8zM483.6 185.1h1.8v1.8h-1.8zM536.1 185.1h1.8v1.8h-1.8zM497.1 171.6h4.8v1.8h-4.8zM524.1 171.6h1.8v1.8h-1.8zM501.6 167.1h1.8v1.8h-1.8zM525.6 167.1h1.8v1.8h-1.8zM498.6 183.6h1.8v1.8h-1.8z"/>
<path stroke="#BEBEBE" stroke-width="2.0" stroke-linecap="round" fill="none" d="M478.7 163.3h0M478.2 168.0h0M478.3 170.9h0M478.3 172.5h0M478.3 173.8h0M478.5 175.4h0M478.7 177.0h0M478.3 178.8h0M478.4 181.7h0M478.7 186.1h0M478.6 187.8h0M478.6 190.2h0M478.7 191.9h0M478.5 193.6h0M478.5 196.5h0M480.3 163.3h0M480.3 165.1h0M479.8 166.5h0M480.2 169.7h0M480.2 172.5h0M479.9 173.7h0M479.8 177.0h0M479.9 178.4h0M480.1 180.1h0M479.7 181.3h0M480.1 183.3h0M480.2 189.1h0M479.7 190.2h0M479.7 193.6h0M479.7 194.8h0M481.5 161.8h0M481.7 163.2h0M481.3 165.2h0M481.6 166.6h0M481.3 168.3h0M481.5 169.3h0M481.4 171.1h0M481.6 172.2h0M481.8 174.3h0M481.8 175.4h0M481.3 179.7h0M481.7 183.3h0M481.3 184.8h0M481.4 188.9h0M481.6 190.5h0M481.2 192.1h0M481.5 193.4h0M482.8 159.1h0M483.3 160.4h0M483.1 162.0h0M483.2 164.7h0M483.3 166.3h0M483.1 168.2h0M482.9 169.4h0M483.3 172.8h0M483.0 173.7h0M482.7 175.8h0M483.1 180.2h0M483.0 181.3h0M482.8 183.3h0M483.3 184.5h0M483.2 186.2h0M483.1 187.2h0M483.3 188.7h0M483.3 190.4h0M482.8 191.8h0M483.3 194.9h0M484.2 158.7h0M484.6 162.0h0M484.2 163.8h0M484.3 168.1h0M484.6 171.1h0M484.5 172.4h0M484.2 173.8h0M484.6 177.1h0M484.4 179.9h0M484.7 181.8h0M484.4 183.0h0M484.6 184.3h0M484.2 187.2h0M484.7 190.5h0M484.5 193.7h0M484.8 194.8h0M485.9 159.3h0M486.3 160.2h0M486.3 162.2h0M486.2 165.1h0M486.0 166.3h0M486.1 167.8h0M486.3 169.7h0M486.0 171.2h0M485.9 172.4h0M485.7 174.1h0M486.0 175.2h0M485.7 176.7h0M486.2 178.4h0M486.1 179.8h0M486.0 181.5h0M486.1 184.7h0M486.0 186.0h0M485.9 187.5h0M486.1 191.7h0M486.0 193.8h0M486.2 195.3h0M486.1 196.7h0M487.5 154.5h0M487.5 156.0h0M487.6 157.7h0M487.7 161.7h0M487.7 163.4h0M487.3 165.2h0M487.3 168.3h0M487.7 171.2h0M487.6 172.5h0M487.7 177.0h0M487.4 178.2h0M487.6 182.9h0M487.4 184.3h0M487.3 187.5h0M487.6 189.1h0M487.3 192.0h0M487.6 193.3h0M489.0 154.5h0M489.0 157.7h0M489.2 162.0h0M489.3 164.7h0M488.9 168.0h0M489.0 169.5h0M488.9 171.2h0M489.0 172.6h0M488.8 173.7h0M489.1 175.8h0M489.3 178.5h0M489.2 181.8h0M488.8 183.1h0M488.9 184.2h0M488.9 185.9h0M490.5 154.5h0M490.5 156.0h0M490.4 157.6h0M490.4 161.8h0M490.8 163.5h0M490.7 165.0h0M490.4 167.9h0M490.2 169.5h0M490.4 172.6h0M490.3 173.8h0M490.2 177.2h0M490.4 178.5h0M490.6 181.6h0M490.6 184.3h0M490.3 186.2h0M490.3 189.3h0M490.8 193.6h0M490.5 195.2h0M491.8 163.7h0M491.9 164.7h0M492.0 166.2h0M491.7 168.1h0M491.7 171.1h0M491.9 175.7h0M492.1 176.7h0M492.0 178.4h0M491.8 180.2h0M492.1 181.3h0M492.1 184.8h0M492.2 187.8h0M491.9 189.1h0M492.3 192.2h0M492.3 193.2h0M492.1 194.7h0M491.7 196.5h0M493.4 163.6h0M493.3 166.2h0M493.4 169.6h0M493.5 170.7h0M493.4 172.3h0M493.6 175.6h0M493.8 181.3h0M493.2 187.7h0M493.4 189.3h0M493.5 190.5h0M493.4 192.1h0M493.5 194.7h0M495.2 159.2h0M494.9 160.4h0M495.0 161.9h0M495.2 163.8h0M494.7 165.1h0M495.3 166.7h0M495.1 168.0h0M494.8 172.4h0M494.7 173.9h0M494.7 175.7h0M494.9 176.9h0M494.9 178.7h0M495.0 179.8h0M494.9 182.7h0M495.3 186.3h0M495.0 195.1h0M496.4 159.0h0M496.3 161.8h0M496.5 163.8h0M496.4 165.2h0M496.2 166.5h0M496.2 167.8h0M496.5 169.2h0M496.7 171.1h0M496.8 172.2h0M496.7 174.1h0M496.8 175.6h0M496.6 180.0h0M496.3 189.2h0M496.8 195.2h0M497.7 158.7h0M498.3 160.7h0M498.1 163.5h0M498.0 165.2h0M498.1 167.9h0M498.0 169.6h0M498.3 170.8h0M497.9 173.9h0M498.3 178.8h0M498.0 181.7h0M498.2 183.0h0M498.0 184.2h0M497.9 185.7h0M497.8 187.8h0M498.3 190.3h0M499.2 158.7h0M499.2 161.8h0M499.8 163.4h0M499.7 164.7h0M499.8 166.5h0M499.4 168.3h0M499.5 170.9h0M499.5 174.2h0M499.2 178.4h0M499.4 180.0h0M499.7 182.7h0M499.4 186.3h0M499.5 189.3h0M499.7 191.9h0M499.8 195.1h0M500.8 158.8h0M500.9 160.2h0M501.0 162.1h0M501.1 164.8h0M500.8 167.9h0M500.9 169.6h0M501.3 171.1h0M501.1 174.2h0M501.0 176.9h0M500.7 178.3h0M501.0 180.1h0M501.1 181.3h0M501.0 183.3h0M500.7 184.2h0M501.1 185.7h0M501.1 187.8h0M501.1 189.0h0M500.9 190.2h0M501.2 192.1h0M500.7 193.7h0M500.9 194.8h0M500.7 196.2h0M502.5 158.9h0M502.7 162.1h0M502.6 163.8h0M502.6 165.1h0M502.3 172.3h0M502.5 173.9h0M502.4 175.6h0M502.5 177.2h0M502.4 181.6h0M502.8 182.7h0M502.7 186.2h0M502.8 187.3h0M502.5 190.2h0M502.6 193.7h0M502.8 196.8h0M504.1 158.9h0M504.1 161.7h0M504.0 166.4h0M504.3 168.3h0M504.2 169.7h0M504.2 170.8h0M503.9 172.3h0M504.3 176.9h0M504.3 178.7h0M504.0 179.9h0M504.2 181.5h0M503.7 186.1h0M504.1 189.0h0M504.1 190.8h0M504.3 191.9h0M504.2 194.7h0M504.3 196.6h0M505.5 157.7h0M505.3 159.0h0M505.6 160.8h0M505.3 161.9h0M505.4 166.3h0M505.4 172.6h0M505.8 174.0h0M505.2 175.7h0M505.4 179.8h0M505.6 186.0h0M505.7 187.8h0M505.7 196.2h0M507.1 157.5h0M506.7 160.8h0M507.0 165.0h0M506.9 166.3h0M506.9 167.8h0M506.9 169.3h0M507.2 171.2h0M507.2 172.4h0M506.8 173.9h0M507.0 175.3h0M506.8 176.8h0M506.8 180.0h0M507.0 182.9h0M507.1 184.2h0M507.2 187.4h0M507.0 191.7h0M506.9 193.3h0M508.6 157.4h0M508.2 159.2h0M508.5 160.4h0M508.4 165.2h0M508.2 168.2h0M508.3 169.3h0M508.2 171.3h0M508.7 172.4h0M508.7 175.3h0M508.2 176.8h0M508.5 180.1h0M508.6 181.6h0M508.7 184.8h0M508.3 187.2h0M508.5 190.5h0M508.3 192.2h0M509.9 157.5h0M509.8 160.5h0M510.3 163.7h0M510.3 165.0h0M509.8 166.3h0M509.7 169.5h0M510.3 174.2h0M509.9 177.3h0M510.3 178.5h0M509.9 181.6h0M509.8 183.1h0M510.3 186.2h0M510.3 189.2h0M510.1 191.7h0M509.9 195.0h0M511.7 157.5h0M511.7 158.7h0M511.4 160.3h0M511.3 161.7h0M511.5 163.7h0M511.6 166.2h0M511.6 168.2h0M511.8 169.5h0M511.6 170.7h0M511.8 172.3h0M511.3 174.2h0M511.3 175.3h0M511.7 176.9h0M511.4 183.3h0M511.5 185.9h0M511.4 189.2h0M511.6 192.1h0M511.8 194.8h0M511.2 196.6h0M513.3 160.2h0M512.8 163.5h0M513.2 164.7h0M512.7 166.5h0M512.9 168.0h0M512.9 169.6h0M512.8 171.1h0M513.3 172.4h0M512.7 173.7h0M513.1 175.6h0M513.1 178.4h0M512.9 180.1h0M513.0 186.0h0M513.1 187.6h0M513.0 190.7h0M514.6 160.8h0M514.6 161.9h0M514.6 163.4h0M514.6 168.2h0M514.2 170.7h0M514.2 174.1h0M514.3 177.3h0M514.3 178.7h0M514.6 179.9h0M514.4 181.5h0M514.8 182.7h0M514.8 184.6h0M514.4 188.8h0M514.8 190.7h0M514.6 193.4h0M516.0 168.0h0M516.3 169.8h0M515.7 170.7h0M516.2 172.2h0M516.0 173.9h0M515.7 175.3h0M515.9 177.0h0M515.8 178.3h0M516.0 181.5h0M515.9 182.7h0M516.1 184.7h0M515.8 186.3h0M516.2 187.8h0M516.2 188.8h0M515.9 190.4h0M516.2 193.6h0M515.8 195.2h0M516.3 196.7h0M517.3 158.8h0M517.5 160.8h0M517.6 162.3h0M517.4 163.3h0M517.8 165.3h0M517.8 168.0h0M517.4 172.5h0M517.4 174.0h0M517.2 175.3h0M517.5 178.6h0M517.2 180.1h0M517.6 181.3h0M517.4 184.5h0M517.3 192.0h0M517.4 196.8h0M518.9 158.7h0M518.8 162.1h0M518.8 165.2h0M519.3 168.1h0M518.7 169.2h0M519.3 170.7h0M518.9 172.5h0M519.3 175.5h0M519.0 178.4h0M518.7 179.8h0M518.8 182.8h0M518.7 184.4h0M519.1 190.3h0M519.1 192.2h0M518.9 196.5h0M520.4 159.2h0M520.8 160.6h0M520.6 162.0h0M520.2 163.2h0M520.8 164.7h0M520.4 166.4h0M520.3 167.9h0M520.8 169.4h0M520.2 171.0h0M520.4 174.1h0M520.6 175.6h0M520.5 178.5h0M520.5 181.7h0M520.7 184.3h0M520.5 187.5h0M520.5 196.5h0M522.0 156.0h0M521.7 157.7h0M522.0 159.1h0M522.3 164.8h0M521.7 166.3h0M522.1 169.5h0M521.8 174.3h0M522.0 178.5h0M522.1 180.3h0M522.2 181.3h0M521.7 183.3h0M521.9 184.6h0M522.2 189.0h0M522.2 191.7h0M522.0 193.3h0M523.5 156.0h0M523.4 159.3h0M523.7 165.0h0M523.2 168.0h0M523.5 170.8h0M523.4 172.8h0M523.5 173.8h0M523.8 178.2h0M523.2 179.8h0M523.4 181.3h0M523.5 183.0h0M523.6 185.9h0M523.5 189.0h0M523.5 190.5h0M523.7 192.3h0M525.0 156.0h0M525.0 157.4h0M524.8 158.8h0M525.1 165.1h0M525.2 166.7h0M524.8 167.9h0M525.1 169.3h0M525.3 171.3h0M525.2 176.7h0M524.8 178.5h0M525.0 184.5h0M524.8 192.3h0M525.3 193.2h0M524.7 196.4h0M526.2 169.7h0M526.7 171.2h0M526.2 172.4h0M526.7 174.3h0M526.6 175.6h0M526.4 176.9h0M526.4 180.0h0M526.2 181.3h0M526.6 183.0h0M526.2 186.2h0M526.5 189.2h0M526.8 190.6h0M528.3 165.0h0M528.1 166.2h0M528.1 168.3h0M528.0 169.4h0M528.0 172.7h0M527.7 174.1h0M527.7 176.7h0M528.1 179.7h0M528.3 181.3h0M528.1 183.1h0M527.9 184.2h0M528.1 187.5h0M528.3 188.9h0M528.0 191.8h0M528.1 193.5h0M528.0 196.6h0M529.2 165.3h0M529.7 169.8h0M529.2 171.3h0M529.7 172.6h0M529.5 173.7h0M529.8 175.6h0M529.2 177.1h0M529.6 178.6h0M529.6 181.5h0M529.6 182.8h0M529.2 184.2h0M529.4 186.2h0M529.3 187.8h0M529.4 189.1h0M529.2 192.1h0M529.7 193.3h0M529.6 196.3h0M530.8 163.8h0M531.3 164.9h0M530.8 166.6h0M530.7 169.6h0M530.7 172.4h0M531.3 175.8h0M530.9 178.2h0M531.3 181.2h0M531.0 188.7h0M531.1 190.3h0M531.1 192.1h0M531.0 194.9h0M532.5 154.5h0M532.5 156.0h0M532.2 157.4h0M532.6 163.7h0M532.6 168.3h0M532.5 169.7h0M532.7 170.9h0M532.6 173.7h0M532.7 178.3h0M532.7 179.9h0M532.6 181.8h0M532.6 182.9h0M532.2 184.2h0M532.4 186.0h0M532.6 192.3h0M532.6 193.8h0M534.0 154.5h0M533.9 157.4h0M534.0 163.8h0M534.1 164.9h0M533.7 167.8h0M534.1 169.4h0M534.1 171.0h0M533.7 173.7h0M534.0 175.7h0M533.7 177.3h0M534.0 178.3h0M533.8 180.1h0M533.9 182.9h0M533.7 184.7h0M533.7 187.5h0M533.8 189.3h0M533.8 190.8h0M534.3 196.2h0M535.5 154.5h0M535.5 156.0h0M535.8 157.2h0M535.5 164.8h0M535.5 166.4h0M535.2 169.2h0M535.3 170.9h0M535.6 174.2h0M535.6 176.7h0M535.4 178.3h0M535.3 180.1h0M535.5 184.3h0M535.5 185.8h0M535.5 187.2h0M535.7 192.2h0M535.6 193.5h0M535.7 195.0h0M537.2 160.6h0M537.0 162.3h0M537.3 163.5h0M537.1 164.7h0M537.1 166.7h0M536.9 168.1h0M537.2 169.8h0M537.2 171.3h0M537.0 172.8h0M536.8 174.1h0M536.8 178.6h0M536.9 183.3h0M536.9 184.2h0M537.2 187.3h0M537.1 189.2h0M537.2 190.5h0M538.8 160.3h0M538.7 163.6h0M538.5 164.9h0M538.4 167.8h0M538.5 169.6h0M538.7 170.8h0M538.8 174.0h0M538.7 176.9h0M538.3 178.4h0M538.7 181.7h0M538.5 183.2h0M538.5 184.5h0M538.8 186.2h0M538.4 187.6h0M538.4 192.0h0M538.2 196.6h0M539.8 160.4h0M539.7 162.0h0M540.2 163.2h0M540.0 165.2h0M540.1 166.2h0M539.7 172.7h0M539.9 173.9h0M540.2 175.5h0M539.8 176.7h0M540.1 181.8h0M540.3 182.8h0M539.8 187.8h0M540.1 189.3h0M540.2 193.2h0M540.0 195.1h0M539.7 196.4h0M541.6 160.7h0M541.5 163.3h0M541.4 166.5h0M541.8 168.3h0M541.4 169.2h0M541.3 171.2h0M541.6 172.2h0M541.6 173.9h0M541.6 181.7h0M541.8 183.2h0M541.7 187.5h0M541.7 192.3h0M541.8 195.2h0M542.8 160.5h0M543.1 162.3h0M543.1 163.7h0M542.8 166.4h0M543.0 172.6h0M543.3 173.9h0M543.2 175.7h0M543.1 178.3h0M542.8 179.7h0M543.1 181.7h0M543.3 183.0h0M542.7 186.2h0M542.7 187.6h0M542.9 189.2h0M543.2 190.8h0M543.1 196.8h0M478.5 198.9h0M480.0 198.9h0M481.5 198.9h0M483.0 198.9h0M484.5 198.9h0M486.0 198.9h0M487.5 198.9h0M492.0 198.9h0M493.5 198.9h0M495.0 198.9h0M496.5 198.9h0M498.0 198.9h0M499.5 198.9h0M502.5 198.9h0M504.0 198.9h0M505.5 198.9h0M510.0 198.9h0M511.5 198.9h0M513.0 198.9h0M516.0 198.9h0M517.5 198.9h0M519.0 198.9h0M520.5 198.9h0M525.0 198.9h0M526.5 198.9h0M528.0 198.9h0M529.5 198.9h0M531.0 198.9h0M532.5 198.9h0M534.0 198.9h0M535.5 198.9h0M537.0 198.9h0M540.0 198.9h0M541.5 198.9h0M543.0 198.9h0M478.0 139.5h0M478.0 141.0h0M478.0 142.5h0M478.0 144.0h0M478.0 145.5h0M478.0 147.0h0M478.0 148.5h0M478.0 150.0h0M478.0 151.5h0M478.0 153.0h0M478.0 154.5h0M478.0 156.0h0M478.0 157.5h0M478.0 159.0h0M478.0 160.5h0M478.0 162.0h0M478.0 163.5h0M478.0 165.0h0M478.0 166.5h0M478.0 168.0h0M478.0 169.5h0M478.0 171.0h0M478.0 172.5h0M478.0 174.0h0M478.0 175.5h0M478.0 177.0h0M478.0 178.5h0M478.0 180.0h0M478.0 181.5h0M478.0 183.0h0M478.0 184.5h0M478.0 186.0h0M478.0 187.5h0M478.0 189.0h0M478.0 190.5h0M478.0 192.0h0M478.0 193.5h0M478.0 195.0h0M478.0 196.5h0M478.0 198.0h0"/>
<path fill="#8FBC8F" d="M543.6 159.6h15.3v1.8h-15.3zM543.6 155.1h18.3v1.8h-18.3zM543.6 153.6h18.3v1.8h-18.3zM543.6 168.6h12.3v1.8h-12.3zM543.6 149.1h19.8v1.8h-19.8zM543.6 147.6h19.8v1.8h-19.8zM543.6 143.1h22.8v1.8h-22.8zM543.6 167.1h15.3v1.8h-15.3zM543.6 162.6h15.3v1.8h-15.3zM543.6 161.1h15.3v1.8h-15.3zM543.6 156.6h15.3v1.8h-15.3zM543.6 141.6h21.3v1.8h-21.3zM543.6 146.1h19.8v1.8h-19.8zM543.6 150.6h19.8v1.8h-19.8zM543.6 144.6h22.8v1.8h-22.8zM543.6 164.1h16.8v1.8h-16.8zM543.6 158.1h15.3v1.8h-15.3zM543.6 152.1h18.3v1.8h-18.3zM543.6 170.1h10.8v1.8h-10.8zM543.6 165.6h15.3v1.8h-15.3zM543.6 140.1h21.3v1.8h-21.3zM543.6 173.1h1.8v1.8h-1.8zM543.6 171.6h6.3v1.8h-6.3z"/>
<path stroke="#8FBC8F" stroke-width="2.0" stroke-linecap="round" fill="none" d="M544.6 175.4h0M544.2 178.4h0M544.3 181.7h0M544.4 183.3h0M544.7 187.2h0M544.3 190.4h0M544.6 192.2h0M544.3 196.7h0M546.2 174.0h0M545.8 175.8h0M545.7 180.3h0M546.3 184.2h0M546.3 192.3h0M547.6 174.1h0M547.4 178.2h0M547.5 182.9h0M547.2 184.6h0M547.7 187.7h0M547.3 195.1h0M549.3 174.0h0M549.2 175.8h0M548.9 180.0h0M548.9 181.7h0M549.1 182.9h0M548.9 184.4h0M548.9 186.3h0M548.9 190.7h0M548.9 193.6h0M550.5 172.5h0M550.3 174.3h0M550.6 175.8h0M550.5 176.9h0M550.2 178.6h0M550.2 181.3h0M550.5 183.1h0M550.2 186.0h0M550.7 187.7h0M550.7 191.9h0M550.2 193.4h0M552.0 172.5h0M552.0 175.8h0M552.1 178.5h0M552.0 179.7h0M552.1 183.2h0M552.3 184.8h0M552.1 187.6h0M552.2 188.8h0M551.7 190.6h0M553.5 172.5h0M553.3 173.8h0M553.2 175.4h0M553.5 176.7h0M553.2 178.3h0M553.7 181.6h0M553.4 187.2h0M553.4 189.1h0M553.8 193.4h0M553.2 196.5h0M555.0 171.0h0M555.0 172.5h0M555.2 174.1h0M555.1 175.7h0M554.9 176.8h0M555.1 179.9h0M555.3 184.5h0M554.8 185.8h0M554.8 187.6h0M555.1 191.9h0M556.5 169.5h0M556.5 171.0h0M556.7 173.9h0M556.3 178.7h0M556.6 181.2h0M556.3 183.2h0M556.8 184.2h0M556.2 186.1h0M558.3 169.2h0M558.3 178.2h0M557.8 181.6h0M557.7 185.9h0M559.5 157.5h0M559.5 159.0h0M559.5 160.5h0M559.5 162.0h0M559.6 163.7h0M559.3 166.7h0M559.4 168.1h0M559.7 169.6h0M559.7 170.7h0M559.7 172.6h0M559.4 174.2h0M559.2 175.5h0M559.6 176.8h0M559.6 178.8h0M559.5 188.8h0M561.0 157.5h0M560.7 160.8h0M561.0 163.5h0M561.1 165.3h0M561.3 166.8h0M561.1 169.5h0M560.8 170.8h0M560.8 174.1h0M560.8 178.4h0M561.2 180.0h0M560.8 181.6h0M561.2 187.4h0M561.0 190.7h0M561.0 195.0h0M562.5 153.0h0M562.8 154.6h0M562.8 156.0h0M562.6 157.8h0M562.7 160.2h0M562.7 163.3h0M562.3 165.0h0M562.8 169.7h0M562.2 170.9h0M562.3 175.8h0M564.0 147.0h0M564.0 148.5h0M563.7 150.0h0M564.0 151.4h0M564.0 153.2h0M564.3 156.3h0M564.3 157.3h0M564.2 158.7h0M563.7 160.3h0M564.2 162.1h0M564.2 163.7h0M563.8 165.2h0M563.9 167.9h0M563.7 170.8h0M564.2 175.5h0M564.3 184.4h0M565.5 141.0h0M565.5 142.5h0M565.7 147.1h0M565.8 150.3h0M565.8 151.8h0M565.2 157.2h0M565.2 162.3h0M565.2 164.8h0M565.2 166.3h0M565.5 169.7h0M565.4 173.9h0M565.3 181.7h0M565.8 185.7h0M566.8 142.3h0M567.3 143.9h0M566.7 145.7h0M566.8 147.2h0M567.2 148.6h0M566.9 150.3h0M566.7 151.8h0M567.1 160.3h0M567.3 169.4h0M566.9 173.8h0M567.1 187.3h0M568.2 141.0h0M568.7 144.3h0M568.8 147.0h0M568.2 148.7h0M568.6 152.8h0M568.5 156.1h0M568.3 158.8h0M568.2 166.5h0M568.8 172.4h0M568.2 175.6h0M568.6 176.9h0M570.3 141.3h0M569.9 144.3h0M570.0 149.7h0M570.3 151.7h0M569.9 154.8h0M569.8 168.0h0M570.2 172.6h0M571.2 147.1h0M571.8 171.0h0M571.5 190.3h0M573.1 142.3h0M572.8 144.2h0M573.2 154.5h0M572.7 157.6h0M573.3 179.9h0M573.3 185.7h0M574.6 143.7h0M574.5 157.3h0M574.5 160.5h0M574.8 163.3h0M576.1 147.2h0M575.9 148.6h0M576.3 149.7h0M577.7 146.9h0M577.2 149.7h0M577.2 151.8h0M577.8 154.5h0M577.6 172.3h0M578.8 143.7h0M580.8 140.9h0M580.4 144.0h0M583.7 158.9h0M584.9 143.7h0M591.3 142.7h0M593.9 146.7h0M593.9 191.8h0M598.3 145.3h0M598.8 148.6h0M599.9 140.8h0M544.5 198.9h0M546.0 198.9h0M547.5 198.9h0M549.0 198.9h0M550.5 198.9h0M552.0 198.9h0M553.5 198.9h0M558.0 198.9h0M559.5 198.9h0M561.0 198.9h0M562.5 198.9h0M565.5 198.9h0M568.5 198.9h0M570.0 198.9h0"/>
<path fill="#A020F0" d="M497.1 114.6h46.8v1.8h-46.8zM509.1 110.1h34.8v1.8h-34.8zM477.6 120.6h66.3v1.8h-66.3zM477.6 123.6h66.3v1.8h-66.3zM477.6 117.6h66.3v1.8h-66.3zM477.6 134.1h66.3v1.8h-66.3zM477.6 137.1h66.3v1.8h-66.3zM477.6 128.1h66.3v1.8h-66.3zM477.6 131.1h66.3v1.8h-66.3zM483.6 116.1h60.3v1.8h-60.3zM477.6 119.1h66.3v1.8h-66.3zM477.6 129.6h66.3v1.8h-66.3zM477.6 132.6h66.3v1.8h-66.3zM477.6 138.6h66.3v1.8h-66.3zM477.6 125.1h66.3v1.8h-66.3zM500.1 113.1h43.8v1.8h-43.8zM477.6 126.6h66.3v1.8h-66.3zM504.6 111.6h39.3v1.8h-39.3zM477.6 122.1h66.3v1.8h-66.3zM477.6 135.6h66.3v1.8h-66.3zM522.6 107.1h21.3v1.8h-21.3zM509.1 108.6h1.8v1.8h-1.8zM515.1 108.6h1.8v1.8h-1.8zM521.1 108.6h22.8v1.8h-22.8zM527.1 105.6h4.8v1.8h-4.8zM536.1 105.6h7.8v1.8h-7.8zM530.1 102.6h1.8v1.8h-1.8zM530.1 104.1h1.8v1.8h-1.8zM542.1 104.1h1.8v1.8h-1.8z"/>
<path stroke="#A020F0" stroke-width="2.0" stroke-linecap="round" fill="none" d="M478.4 107.9h0M478.8 117.0h0M480.3 115.2h0M479.8 116.9h0M481.7 114.2h0M481.3 116.8h0M483.3 112.7h0M482.9 115.8h0M483.0 117.0h0M484.7 94.4h0M484.8 109.7h0M484.7 111.1h0M484.7 115.5h0M485.8 107.8h0M486.0 111.2h0M485.7 112.3h0M486.3 115.5h0M487.6 75.3h0M487.2 77.9h0M487.8 108.3h0M487.8 115.4h0M488.8 107.9h0M489.0 111.2h0M489.0 115.5h0M490.6 113.9h0M490.5 115.5h0M492.2 103.8h0M491.7 112.7h0M492.0 115.5h0M493.3 106.2h0M493.4 109.4h0M493.4 110.8h0M493.8 112.3h0M493.5 113.9h0M493.5 115.5h0M495.3 105.3h0M494.7 108.0h0M494.7 112.2h0M495.0 115.5h0M496.8 100.2h0M496.6 105.0h0M496.7 112.3h0M496.5 114.0h0M496.5 115.5h0M497.9 105.0h0M498.3 109.7h0M497.8 110.9h0M498.0 114.0h0M499.2 100.7h0M499.4 106.3h0M499.4 109.7h0M499.7 111.0h0M499.4 112.6h0M499.5 114.0h0M500.7 102.2h0M500.7 104.8h0M500.8 107.8h0M500.9 109.6h0M501.1 111.2h0M500.7 112.2h0M502.8 108.1h0M502.5 109.6h0M502.5 112.5h0M503.7 96.0h0M504.3 99.1h0M503.9 106.2h0M503.8 108.1h0M504.1 111.3h0M504.0 112.5h0M505.8 103.7h0M505.6 111.3h0M507.1 101.7h0M507.2 108.1h0M507.1 110.8h0M508.2 105.1h0M508.5 108.0h0M508.5 109.3h0M508.7 111.1h0M510.1 87.0h0M509.8 102.2h0M509.8 107.9h0M511.3 101.9h0M511.5 107.8h0M511.5 109.8h0M513.2 98.9h0M513.2 103.3h0M512.9 106.8h0M512.7 109.5h0M514.5 99.3h0M514.2 103.2h0M514.2 104.9h0M514.5 108.1h0M514.3 109.5h0M516.1 79.2h0M516.0 100.5h0M515.8 103.6h0M515.8 104.8h0M516.0 108.1h0M517.5 106.3h0M517.5 108.1h0M517.5 109.5h0M519.2 78.1h0M518.7 94.4h0M519.3 100.3h0M519.3 105.2h0M519.1 106.3h0M519.0 109.5h0M520.3 105.3h0M520.4 107.8h0M520.5 109.5h0M522.1 100.7h0M522.0 103.4h0M521.7 105.3h0M521.8 106.5h0M522.0 108.0h0M523.7 102.3h0M523.6 106.2h0M525.0 103.5h0M524.7 106.6h0M526.2 82.6h0M526.4 95.9h0M526.8 99.3h0M526.4 105.0h0M526.3 106.8h0M528.0 95.9h0M528.3 98.7h0M527.7 105.0h0M529.5 91.5h0M529.7 99.0h0M529.3 101.8h0M529.3 103.7h0M529.5 105.3h0M530.7 76.6h0M530.9 100.5h0M530.7 101.9h0M532.3 88.8h0M532.7 97.3h0M532.6 100.5h0M532.4 102.2h0M532.7 103.3h0M532.8 105.3h0M532.5 106.5h0M533.8 98.7h0M533.9 101.9h0M533.9 103.3h0M534.0 106.5h0M535.3 94.4h0M535.6 99.1h0M535.5 105.0h0M535.5 106.5h0M537.3 64.4h0M536.7 88.5h0M536.7 91.7h0M536.7 93.1h0M537.2 99.0h0M537.1 100.6h0M537.1 102.2h0M536.7 103.8h0M537.0 105.0h0M538.3 95.9h0M538.7 99.2h0M538.8 100.7h0M538.7 101.7h0M538.7 103.8h0M538.5 105.0h0M540.3 94.3h0M539.7 100.2h0M540.0 105.0h0M541.7 82.8h0M541.3 94.7h0M541.4 95.8h0M541.2 101.8h0M541.4 103.7h0M541.5 105.0h0M542.8 74.9h0M542.9 96.0h0M542.7 100.4h0M543.0 103.5h0M478.0 103.5h0M478.0 105.0h0M478.0 106.5h0M478.0 108.0h0M478.0 109.5h0M478.0 111.0h0M478.0 112.5h0M478.0 114.0h0M478.0 115.5h0M478.0 117.0h0M478.0 118.5h0M478.0 120.0h0M478.0 121.5h0M478.0 123.0h0M478.0 124.5h0M478.0 126.0h0M478.0 127.5h0M478.0 129.0h0M478.0 130.5h0M478.0 132.0h0M478.0 133.5h0M478.0 135.0h0M478.0 136.5h0M478.0 138.0h0M478.0 139.5h0M478.4 65.4h0"/>
<path fill="#666666" d="M626.1 59.1h12.3v1.8h-12.3zM543.6 102.6h48.3v1.8h-48.3zM543.6 105.6h46.8v1.8h-46.8zM599.1 72.6h24.3v1.8h-24.3zM543.6 116.1h40.8v1.8h-40.8zM608.1 66.6h1.8v1.8h-1.8zM614.1 66.6h15.3v1.8h-15.3zM543.6 129.6h31.8v1.8h-31.8zM579.6 80.1h31.8v1.8h-31.8zM569.1 90.6h31.8v1.8h-31.8zM575.1 84.6h31.8v1.8h-31.8zM573.6 87.6h30.3v1.8h-30.3zM543.6 104.1h48.3v1.8h-48.3zM624.6 60.6h13.8v1.8h-13.8zM633.6 54.6h9.3v1.8h-9.3zM554.1 98.1h40.8v1.8h-40.8zM543.6 117.6h36.3v1.8h-36.3zM606.6 68.1h21.3v1.8h-21.3zM543.6 111.6h40.8v1.8h-40.8zM585.6 78.6h30.3v1.8h-30.3zM543.6 125.1h33.3v1.8h-33.3zM594.6 75.6h22.8v1.8h-22.8zM566.1 92.1h34.8v1.8h-34.8zM573.6 86.1h31.8v1.8h-31.8zM543.6 99.6h51.3v1.8h-51.3zM561.6 93.6h36.3v1.8h-36.3zM543.6 107.1h43.8v1.8h-43.8zM543.6 113.1h40.8v1.8h-40.8zM543.6 126.6h31.8v1.8h-31.8zM588.6 77.1h28.8v1.8h-28.8zM543.6 120.6h36.3v1.8h-36.3zM603.6 71.1h21.3v1.8h-21.3zM543.6 134.1h27.3v1.8h-27.3zM558.6 95.1h39.3v1.8h-39.3zM617.1 65.1h15.3v1.8h-15.3zM543.6 108.6h43.8v1.8h-43.8zM543.6 122.1h34.8v1.8h-34.8zM651.6 39.6h3.3v1.8h-3.3zM543.6 135.6h24.3v1.8h-24.3zM635.1 53.1h10.8v1.8h-10.8zM555.6 96.6h39.3v1.8h-39.3zM543.6 110.1h40.8v1.8h-40.8zM543.6 123.6h33.3v1.8h-33.3zM596.1 74.1h21.3v1.8h-21.3zM543.6 137.1h24.3v1.8h-24.3zM543.6 131.1h30.3v1.8h-30.3zM578.1 81.6h33.3v1.8h-33.3zM641.1 48.6h6.3v1.8h-6.3zM623.1 62.1h10.8v1.8h-10.8zM632.1 56.1h7.8v1.8h-7.8zM543.6 119.1h36.3v1.8h-36.3zM603.6 69.6h24.3v1.8h-24.3zM543.6 132.6h27.3v1.8h-27.3zM578.1 83.1h31.8v1.8h-31.8zM629.1 57.6h10.8v1.8h-10.8zM543.6 101.1h48.3v1.8h-48.3zM543.6 114.6h40.8v1.8h-40.8zM543.6 128.1h31.8v1.8h-31.8zM569.1 89.1h33.3v1.8h-33.3zM543.6 138.6h24.3v1.8h-24.3zM638.1 51.6h7.8v1.8h-7.8zM644.1 47.1h4.8v1.8h-4.8zM648.6 42.6h4.8v1.8h-4.8zM654.6 38.1h3.3v1.8h-3.3zM620.1 63.6h13.8v1.8h-13.8zM641.1 50.1h4.8v1.8h-4.8zM648.6 44.1h1.8v1.8h-1.8zM651.6 41.1h1.8v1.8h-1.8zM647.1 45.6h1.8v1.8h-1.8z"/>
<path stroke="#666666" stroke-width="2.0" stroke-linecap="round" fill="none" d="M544.7 94.4h0M544.7 97.6h0M544.7 98.8h0M546.0 92.7h0M546.0 96.1h0M545.9 99.3h0M547.6 91.3h0M547.5 92.8h0M547.5 94.2h0M547.5 98.9h0M549.2 91.5h0M549.0 99.0h0M550.2 93.0h0M550.5 99.0h0M552.0 83.7h0M552.3 94.6h0M552.0 99.0h0M553.6 89.8h0M553.5 91.2h0M553.5 97.5h0M553.5 99.0h0M555.3 83.7h0M555.2 94.8h0M555.0 96.0h0M555.0 97.5h0M556.5 91.3h0M556.4 96.2h0M558.0 82.3h0M558.3 94.2h0M558.0 96.0h0M559.4 90.2h0M559.4 94.4h0M560.8 88.5h0M560.9 91.5h0M561.1 92.8h0M561.0 94.5h0M562.6 79.7h0M562.7 87.0h0M562.8 90.3h0M562.4 91.7h0M562.6 92.8h0M564.1 77.9h0M563.8 83.8h0M564.0 93.0h0M565.8 80.8h0M565.5 91.5h0M565.5 93.0h0M567.0 88.4h0M567.0 91.5h0M568.4 81.0h0M568.4 85.6h0M568.3 88.5h0M568.5 90.0h0M568.5 91.5h0M568.5 136.5h0M568.5 138.0h0M568.5 139.5h0M570.0 88.5h0M570.0 136.5h0M570.0 139.6h0M571.3 82.3h0M571.2 85.4h0M571.5 88.5h0M571.5 133.5h0M571.5 135.0h0M571.8 136.7h0M571.6 138.2h0M573.2 69.3h0M572.8 78.2h0M573.2 85.3h0M573.0 87.0h0M573.0 88.5h0M573.1 133.7h0M573.3 136.8h0M572.9 138.1h0M573.2 139.6h0M574.8 83.8h0M574.5 85.5h0M574.7 131.7h0M574.6 133.5h0M574.7 136.4h0M576.0 79.7h0M576.0 84.0h0M576.0 127.5h0M575.8 128.9h0M576.3 130.3h0M575.8 131.7h0M577.5 80.8h0M577.5 82.7h0M577.5 84.0h0M577.5 124.5h0M577.5 126.0h0M577.5 127.4h0M577.6 134.7h0M577.5 139.7h0M578.8 79.7h0M578.7 81.1h0M579.0 123.0h0M579.1 124.2h0M578.7 127.2h0M578.8 129.0h0M579.2 131.8h0M579.1 133.3h0M580.2 55.3h0M580.8 79.6h0M580.5 118.5h0M580.5 120.0h0M580.2 121.7h0M580.8 122.8h0M580.8 127.2h0M580.6 134.7h0M581.9 77.7h0M581.7 79.7h0M582.0 118.5h0M582.1 121.3h0M582.3 124.6h0M582.0 125.9h0M583.6 73.3h0M583.5 79.5h0M583.5 118.5h0M583.6 119.7h0M583.8 121.5h0M583.2 122.9h0M583.4 126.3h0M584.7 73.3h0M584.9 75.3h0M584.7 78.1h0M585.0 79.5h0M585.0 111.0h0M585.0 112.5h0M585.0 114.0h0M584.9 115.3h0M585.3 116.8h0M584.7 118.4h0M585.3 124.5h0M586.2 68.8h0M586.5 78.0h0M586.5 111.0h0M586.3 115.5h0M586.4 116.7h0M586.7 121.8h0M586.7 127.3h0M588.3 75.0h0M587.7 76.6h0M588.0 78.0h0M588.0 108.0h0M588.0 109.5h0M588.2 111.0h0M587.9 112.2h0M588.2 114.2h0M588.2 122.8h0M589.6 64.3h0M589.8 68.8h0M589.3 71.8h0M589.2 73.5h0M589.2 75.3h0M589.5 76.5h0M589.3 108.0h0M589.8 112.4h0M589.2 114.2h0M591.1 54.3h0M591.0 76.5h0M590.8 106.7h0M590.7 108.2h0M590.8 115.3h0M592.2 63.1h0M592.5 76.5h0M592.5 102.0h0M592.5 103.5h0M592.6 104.7h0M592.3 106.4h0M592.4 109.4h0M594.0 75.0h0M594.0 76.5h0M594.0 102.0h0M594.1 104.8h0M594.2 107.7h0M595.3 70.8h0M595.8 73.3h0M595.5 75.0h0M595.5 97.5h0M595.5 99.0h0M595.8 100.6h0M595.2 101.9h0M595.5 106.4h0M597.1 66.1h0M597.0 73.5h0M597.0 97.5h0M597.2 100.3h0M597.3 106.8h0M597.2 110.8h0M598.8 71.7h0M598.5 73.5h0M598.5 94.5h0M598.5 96.0h0M598.4 97.2h0M598.4 98.9h0M598.4 100.3h0M598.6 101.9h0M598.2 108.3h0M599.9 58.2h0M600.0 69.3h0M599.9 70.8h0M600.0 72.0h0M600.0 94.5h0M600.3 97.6h0M601.5 72.0h0M601.5 91.5h0M601.5 93.0h0M601.3 94.8h0M601.5 95.8h0M601.6 98.9h0M602.8 69.1h0M603.0 70.5h0M603.0 72.0h0M603.0 90.0h0M603.0 91.5h0M602.8 97.7h0M604.6 68.7h0M604.5 88.5h0M604.5 90.0h0M604.8 96.2h0M606.2 67.5h0M606.3 68.7h0M606.0 87.0h0M606.0 88.5h0M605.8 91.2h0M607.7 65.8h0M607.3 67.8h0M607.5 85.5h0M607.5 87.0h0M607.4 89.8h0M609.1 64.8h0M608.7 66.2h0M609.0 85.5h0M608.9 88.7h0M609.0 90.2h0M609.0 95.9h0M608.9 124.3h0M610.7 66.2h0M610.5 67.5h0M610.5 84.0h0M610.3 85.5h0M612.1 62.7h0M612.1 64.7h0M612.0 67.5h0M612.0 81.0h0M612.0 82.5h0M612.3 83.9h0M612.1 86.9h0M613.6 64.8h0M613.5 66.0h0M613.5 67.5h0M613.5 81.0h0M613.2 85.4h0M615.0 63.2h0M615.0 66.0h0M614.9 80.7h0M615.2 82.6h0M616.5 64.5h0M616.5 66.0h0M616.4 79.2h0M616.2 80.8h0M617.7 50.8h0M617.7 54.2h0M618.0 64.5h0M618.0 75.0h0M618.0 76.5h0M618.3 78.0h0M617.9 79.6h0M619.5 63.0h0M619.5 64.5h0M619.5 75.0h0M619.3 77.9h0M619.7 81.1h0M619.8 119.7h0M621.0 63.0h0M621.0 75.0h0M620.8 76.8h0M622.5 61.5h0M622.5 63.0h0M622.6 74.9h0M624.3 54.2h0M623.8 59.7h0M624.0 61.5h0M624.1 73.5h0M624.0 75.0h0M625.2 55.8h0M625.7 57.2h0M625.8 58.3h0M625.5 60.0h0M625.2 72.3h0M625.4 73.3h0M625.2 76.2h0M625.8 81.1h0M625.3 88.2h0M627.2 42.3h0M626.8 55.2h0M627.1 58.5h0M627.2 72.0h0M628.5 56.9h0M628.5 58.5h0M628.5 69.0h0M628.2 70.7h0M628.7 72.2h0M628.4 75.1h0M628.6 103.8h0M630.0 57.0h0M630.0 67.5h0M629.7 69.3h0M629.8 75.2h0M631.8 31.7h0M631.5 55.5h0M631.5 57.0h0M631.6 67.3h0M631.5 75.1h0M631.5 94.8h0M632.8 54.1h0M633.0 55.5h0M633.0 66.0h0M632.9 67.6h0M633.2 72.0h0M634.2 49.8h0M634.4 50.7h0M634.7 52.8h0M634.5 54.0h0M634.5 63.0h0M634.5 64.5h0M634.6 66.0h0M635.7 47.9h0M636.0 52.5h0M636.0 63.0h0M636.3 65.9h0M637.5 51.0h0M637.5 52.5h0M637.5 62.7h0M637.8 64.2h0M637.5 79.6h0M639.0 51.0h0M639.0 60.0h0M638.9 61.4h0M639.1 63.0h0M639.3 68.8h0M640.8 35.7h0M640.4 46.2h0M640.8 48.2h0M640.5 49.5h0M640.5 51.0h0M640.5 57.0h0M640.5 58.5h0M640.3 60.3h0M640.5 66.3h0M640.3 70.5h0M642.0 48.0h0M642.0 57.0h0M642.0 60.2h0M643.7 40.6h0M643.5 46.5h0M643.5 48.0h0M643.5 55.5h0M643.7 56.9h0M645.0 46.5h0M645.1 55.3h0M646.6 42.0h0M646.5 45.0h0M646.5 46.5h0M646.5 51.0h0M646.5 52.5h0M646.7 54.0h0M646.6 55.8h0M648.0 42.3h0M648.0 43.5h0M648.0 45.0h0M648.0 49.5h0M647.9 51.3h0M648.3 57.2h0M649.5 42.0h0M649.5 46.5h0M649.5 48.0h0M649.6 49.4h0M649.8 58.7h0M650.9 37.3h0M651.0 38.9h0M651.0 40.5h0M651.0 42.0h0M651.0 45.0h0M651.0 46.5h0M652.8 38.9h0M652.5 45.0h0M652.5 47.7h0M653.8 37.5h0M654.0 39.0h0M654.0 42.0h0M654.0 43.5h0M654.0 44.8h0M653.9 46.3h0M655.8 32.8h0M655.5 37.5h0M655.5 40.5h0M655.5 42.0h0M657.1 36.3h0M657.0 37.5h0M657.0 40.5h0M658.8 28.4h0M658.3 33.2h0M658.5 36.0h0M658.5 37.5h0M658.5 39.0h0M658.5 40.8h0M660.0 34.5h0M660.0 36.0h0M660.0 37.5h0M661.6 31.5h0M661.6 32.9h0M661.5 34.5h0M661.5 36.0h0M663.0 28.4h0M663.0 33.0h0M662.9 34.3h0M664.5 31.5h0M664.7 32.8h0M664.2 40.2h0M665.9 29.9h0M665.8 34.3h0M665.8 44.7h0M669.2 25.6h0M669.1 28.3h0M668.7 31.6h0"/>
<line x1="469.0" y1="207.6" x2="678.0" y2="19.8" stroke="#ff0000" stroke-width="1.7" stroke-dasharray="6.4 6" stroke-dashoffset="8.0"/>
<path stroke="#BEBEBE" stroke-width="2.0" stroke-linecap="round" fill="none" d="M484.6 392.7h0M484.5 397.2h0M484.2 400.4h0M486.1 391.5h0M485.9 399.2h0M486.1 403.7h0M487.5 391.5h0M487.4 415.4h0M488.8 391.2h0M489.3 394.6h0M488.8 395.9h0M489.3 415.5h0M490.5 391.4h0M490.2 392.8h0M492.2 394.8h0M492.3 402.1h0M492.2 442.3h0M493.5 397.3h0M495.3 393.3h0M495.0 414.0h0M494.9 415.6h0M496.8 394.6h0M496.7 397.2h0M497.7 406.2h0M497.9 439.5h0M497.8 445.2h0M499.2 391.4h0M501.2 396.2h0M501.2 401.8h0M500.8 403.7h0M500.7 428.8h0M502.5 391.7h0M502.5 421.5h0M502.7 430.7h0M503.7 393.2h0M505.8 391.5h0M505.8 393.3h0M505.3 395.7h0M505.3 398.8h0M505.4 444.3h0M506.8 394.5h0M507.2 406.3h0M506.9 429.0h0M508.4 398.9h0M510.3 394.7h0M510.1 395.9h0M509.8 401.9h0M511.7 391.4h0M511.7 394.8h0M511.3 399.0h0M514.4 421.6h0M516.3 406.4h0M516.0 415.6h0M517.7 395.8h0M519.0 392.7h0M519.0 394.2h0M519.1 398.7h0M519.0 404.9h0M520.3 391.3h0M520.2 443.8h0M521.8 394.6h0M521.7 395.9h0M521.9 397.3h0M522.1 421.5h0M523.6 391.5h0M523.8 400.7h0M523.7 403.7h0M526.8 391.8h0M526.3 394.2h0M526.7 396.2h0M526.3 412.3h0M526.3 442.7h0M526.5 445.5h0M528.0 391.4h0M529.5 394.7h0M529.5 397.8h0M531.1 394.4h0M532.5 391.3h0M532.6 397.5h0M532.4 424.4h0M534.2 421.3h0M535.8 391.6h0M535.2 394.3h0M535.7 442.5h0M537.1 396.1h0M537.1 397.6h0M537.2 408.1h0M538.7 391.8h0M538.4 394.2h0M539.7 391.7h0M539.9 397.6h0M539.7 411.1h0M540.2 419.8h0M541.4 393.2h0M541.8 394.5h0M541.4 396.1h0M541.3 445.4h0M543.2 394.7h0M544.6 391.4h0M544.8 398.9h0M544.2 411.3h0M546.3 391.3h0M545.8 407.9h0M481.7 391.5h0M481.7 393.0h0M481.7 394.5h0M481.7 396.0h0M481.7 397.5h0M481.7 399.0h0M481.7 400.5h0M481.7 402.0h0M481.7 403.5h0M481.7 405.0h0M481.7 406.5h0M481.7 408.0h0M481.7 409.5h0M481.7 426.5h0M481.7 437.0h0M481.7 448.2h0"/>
<path fill="#8FBC8F" d="M563.1 392.1h1.8v1.8h-1.8zM570.6 392.1h7.8v1.8h-7.8zM582.6 392.1h1.8v1.8h-1.8zM563.1 390.6h15.3v1.8h-15.3zM582.6 390.6h1.8v1.8h-1.8z"/>
<path stroke="#8FBC8F" stroke-width="2.0" stroke-linecap="round" fill="none" d="M547.3 391.2h0M547.8 394.8h0M547.5 397.2h0M547.6 414.0h0M549.3 391.8h0M548.9 394.8h0M549.2 395.9h0M549.2 398.9h0M548.7 400.7h0M549.0 403.8h0M549.0 404.7h0M549.2 406.6h0M548.7 409.6h0M549.3 438.0h0M550.6 391.2h0M550.5 393.0h0M550.7 394.7h0M550.6 397.4h0M550.8 400.8h0M550.8 407.8h0M550.3 411.2h0M550.2 412.6h0M550.6 415.6h0M550.2 424.5h0M551.9 393.3h0M551.8 395.9h0M552.3 397.7h0M552.0 403.8h0M552.0 414.0h0M551.7 415.8h0M552.1 425.8h0M553.3 393.0h0M553.3 394.2h0M553.4 395.9h0M553.3 397.2h0M553.4 424.8h0M554.8 391.8h0M554.9 394.4h0M555.2 417.1h0M556.4 391.3h0M556.6 392.7h0M556.7 396.2h0M556.4 399.3h0M556.2 400.5h0M557.7 394.8h0M557.9 403.5h0M557.8 406.6h0M557.9 414.2h0M557.9 418.7h0M559.7 391.2h0M559.7 392.9h0M559.3 395.8h0M559.8 397.6h0M559.5 398.9h0M559.8 400.6h0M559.8 408.2h0M560.7 391.2h0M560.8 394.3h0M560.8 395.7h0M560.8 399.1h0M560.8 400.7h0M561.0 402.2h0M560.9 405.2h0M562.7 391.4h0M562.2 393.0h0M562.5 394.4h0M562.4 395.8h0M562.7 397.3h0M562.3 406.2h0M562.2 430.3h0M563.7 394.7h0M563.8 397.2h0M564.3 400.7h0M564.1 401.9h0M564.3 407.9h0M564.1 418.4h0M564.1 426.2h0M565.8 392.9h0M565.8 394.2h0M565.7 397.5h0M565.6 400.6h0M565.4 406.4h0M565.3 409.3h0M565.8 423.2h0M565.8 438.1h0M566.8 393.1h0M567.2 397.7h0M566.8 400.7h0M567.0 411.1h0M567.2 441.2h0M568.6 393.2h0M568.4 396.0h0M568.3 398.7h0M568.5 400.8h0M568.6 411.1h0M568.3 424.6h0M570.0 393.0h0M570.1 394.2h0M569.9 398.7h0M570.3 408.2h0M570.2 409.4h0M569.8 419.9h0M570.1 421.3h0M571.7 394.2h0M571.3 399.0h0M571.2 403.2h0M571.5 406.4h0M571.4 419.8h0M571.3 426.2h0M573.1 394.4h0M573.0 396.3h0M572.8 397.6h0M572.8 399.0h0M573.0 400.5h0M573.0 405.2h0M574.2 394.4h0M574.7 396.0h0M574.8 399.1h0M574.3 400.6h0M574.5 409.8h0M574.3 413.8h0M575.9 394.2h0M576.0 397.6h0M576.0 398.7h0M576.1 405.2h0M575.8 407.7h0M576.2 410.9h0M576.0 441.1h0M577.3 394.8h0M577.3 395.8h0M577.2 400.7h0M577.8 402.0h0M577.7 412.2h0M577.5 418.4h0M579.2 391.3h0M579.0 393.3h0M579.1 394.6h0M579.1 396.3h0M579.3 397.4h0M579.3 402.3h0M578.7 405.3h0M579.3 406.3h0M578.8 409.6h0M578.9 411.3h0M578.8 417.2h0M579.0 419.8h0M579.3 424.4h0M580.8 391.8h0M580.3 394.3h0M580.2 396.0h0M580.5 397.4h0M580.6 399.1h0M580.6 423.3h0M582.2 391.7h0M582.1 393.3h0M582.1 394.7h0M582.1 395.9h0M583.2 394.4h0M583.6 404.9h0M583.3 414.0h0M583.3 415.7h0M585.1 391.8h0M585.3 393.1h0M585.1 394.4h0M585.2 395.9h0M585.1 403.5h0M585.1 423.0h0M586.6 391.8h0M586.4 396.0h0M586.8 397.3h0M586.4 398.8h0M586.4 406.8h0M586.5 413.9h0M588.3 391.2h0M588.1 392.7h0M588.1 395.8h0M589.7 393.3h0M589.2 394.4h0M589.5 397.2h0M589.7 404.7h0M589.6 438.3h0M591.2 391.3h0M590.7 394.5h0M591.0 396.2h0M591.0 400.2h0M591.1 403.4h0M590.8 408.3h0M591.3 445.5h0M592.6 391.3h0M592.3 394.2h0M592.5 395.9h0M592.6 398.8h0M592.3 405.1h0M592.6 408.1h0M592.8 416.9h0M594.1 391.7h0M594.2 394.4h0M594.3 396.1h0M594.2 399.3h0M595.2 391.6h0M595.6 394.7h0M595.5 397.2h0M595.7 398.9h0M595.4 405.2h0M595.3 409.6h0M595.7 418.3h0M595.3 444.3h0M596.9 391.2h0M597.3 393.0h0M597.3 394.8h0M597.1 397.5h0M597.2 415.6h0M596.9 425.7h0M598.7 393.1h0M598.8 394.6h0M598.3 397.6h0M598.5 403.8h0M598.7 404.8h0M598.4 407.9h0M599.8 391.4h0M599.9 394.6h0M600.2 395.7h0M600.0 406.7h0M599.9 412.6h0M601.6 391.4h0M601.3 393.2h0M601.6 397.7h0M601.6 409.6h0M601.6 414.2h0M601.6 433.2h0M602.9 391.4h0M602.8 393.2h0M603.2 394.7h0M603.2 397.2h0M603.1 402.2h0M603.0 419.7h0M604.3 400.2h0M604.3 415.4h0M604.8 445.6h0M606.2 392.9h0M605.7 397.3h0M606.2 402.2h0M606.3 405.0h0M605.9 406.6h0M607.8 391.6h0M607.3 393.3h0M607.4 394.7h0M607.2 400.8h0M607.2 403.3h0M607.7 416.7h0M607.7 433.5h0M609.2 392.7h0M609.1 398.8h0M608.7 425.7h0M611.8 415.7h0M613.2 391.4h0M615.2 397.2h0M618.1 393.0h0M618.0 394.7h0M619.6 415.3h0M622.5 397.6h0"/>
<path fill="#A020F0" d="M506.1 360.6h16.8v1.8h-16.8zM539.1 360.6h7.8v1.8h-7.8zM501.6 377.1h1.8v1.8h-1.8zM507.6 377.1h1.8v1.8h-1.8zM521.1 377.1h3.3v1.8h-3.3zM531.6 377.1h3.3v1.8h-3.3zM539.1 377.1h1.8v1.8h-1.8zM510.6 327.6h3.3v1.8h-3.3zM519.6 327.6h9.3v1.8h-9.3zM533.1 327.6h13.8v1.8h-13.8zM521.1 321.6h1.8v1.8h-1.8zM531.6 321.6h15.3v1.8h-15.3zM507.6 372.6h6.3v1.8h-6.3zM518.1 372.6h6.3v1.8h-6.3zM534.6 372.6h12.3v1.8h-12.3zM509.1 335.1h1.8v1.8h-1.8zM515.1 335.1h3.3v1.8h-3.3zM522.6 335.1h4.8v1.8h-4.8zM531.6 335.1h3.3v1.8h-3.3zM543.6 335.1h3.3v1.8h-3.3zM498.6 341.1h4.8v1.8h-4.8zM513.6 341.1h18.3v1.8h-18.3zM537.6 341.1h6.3v1.8h-6.3zM500.1 368.1h1.8v1.8h-1.8zM506.1 368.1h25.8v1.8h-25.8zM537.6 368.1h9.3v1.8h-9.3zM506.1 362.1h13.8v1.8h-13.8zM528.6 362.1h3.3v1.8h-3.3zM539.1 362.1h7.8v1.8h-7.8zM497.1 375.6h4.8v1.8h-4.8zM507.6 375.6h1.8v1.8h-1.8zM518.1 375.6h6.3v1.8h-6.3zM539.1 375.6h1.8v1.8h-1.8zM545.1 375.6h1.8v1.8h-1.8zM513.6 330.6h3.3v1.8h-3.3zM521.1 330.6h7.8v1.8h-7.8zM533.1 330.6h7.8v1.8h-7.8zM545.1 330.6h1.8v1.8h-1.8zM510.6 350.1h3.3v1.8h-3.3zM519.6 350.1h15.3v1.8h-15.3zM539.1 350.1h3.3v1.8h-3.3zM503.1 344.1h15.3v1.8h-15.3zM522.6 344.1h7.8v1.8h-7.8zM537.6 344.1h6.3v1.8h-6.3zM540.6 318.6h3.3v1.8h-3.3zM506.1 332.1h3.3v1.8h-3.3zM515.1 332.1h1.8v1.8h-1.8zM521.1 332.1h13.8v1.8h-13.8zM539.1 332.1h1.8v1.8h-1.8zM545.1 332.1h1.8v1.8h-1.8zM503.1 345.6h15.3v1.8h-15.3zM522.6 345.6h7.8v1.8h-7.8zM534.6 345.6h12.3v1.8h-12.3zM498.6 339.6h3.3v1.8h-3.3zM513.6 339.6h18.3v1.8h-18.3zM536.1 339.6h10.8v1.8h-10.8zM507.6 356.1h6.3v1.8h-6.3zM518.1 356.1h1.8v1.8h-1.8zM524.1 356.1h4.8v1.8h-4.8zM537.6 356.1h9.3v1.8h-9.3zM510.6 353.1h9.3v1.8h-9.3zM524.1 353.1h4.8v1.8h-4.8zM533.1 353.1h10.8v1.8h-10.8zM501.6 369.6h1.8v1.8h-1.8zM507.6 369.6h16.8v1.8h-16.8zM536.1 369.6h10.8v1.8h-10.8zM531.6 320.1h15.3v1.8h-15.3zM506.1 365.1h12.3v1.8h-12.3zM524.1 365.1h1.8v1.8h-1.8zM530.1 365.1h3.3v1.8h-3.3zM539.1 365.1h7.8v1.8h-7.8zM497.1 359.1h4.8v1.8h-4.8zM506.1 359.1h16.8v1.8h-16.8zM527.1 359.1h1.8v1.8h-1.8zM539.1 359.1h7.8v1.8h-7.8zM506.1 366.6h12.3v1.8h-12.3zM522.6 366.6h3.3v1.8h-3.3zM530.1 366.6h3.3v1.8h-3.3zM537.6 366.6h9.3v1.8h-9.3zM507.6 354.6h6.3v1.8h-6.3zM518.1 354.6h1.8v1.8h-1.8zM524.1 354.6h4.8v1.8h-4.8zM533.1 354.6h10.8v1.8h-10.8zM504.6 348.6h9.3v1.8h-9.3zM519.6 348.6h15.3v1.8h-15.3zM539.1 348.6h3.3v1.8h-3.3zM510.6 329.1h3.3v1.8h-3.3zM521.1 329.1h7.8v1.8h-7.8zM533.1 329.1h13.8v1.8h-13.8zM509.1 336.6h9.3v1.8h-9.3zM522.6 336.6h4.8v1.8h-4.8zM531.6 336.6h3.3v1.8h-3.3zM543.6 336.6h3.3v1.8h-3.3zM501.6 380.1h1.8v1.8h-1.8zM539.1 380.1h4.8v1.8h-4.8zM513.6 324.6h1.8v1.8h-1.8zM521.1 324.6h15.3v1.8h-15.3zM540.6 324.6h6.3v1.8h-6.3zM498.6 357.6h3.3v1.8h-3.3zM507.6 357.6h6.3v1.8h-6.3zM518.1 357.6h4.8v1.8h-4.8zM527.1 357.6h1.8v1.8h-1.8zM539.1 357.6h7.8v1.8h-7.8zM501.6 351.6h3.3v1.8h-3.3zM510.6 351.6h3.3v1.8h-3.3zM524.1 351.6h19.8v1.8h-19.8zM507.6 371.1h6.3v1.8h-6.3zM518.1 371.1h6.3v1.8h-6.3zM536.1 371.1h10.8v1.8h-10.8zM510.6 326.1h3.3v1.8h-3.3zM521.1 326.1h15.3v1.8h-15.3zM540.6 326.1h6.3v1.8h-6.3zM497.1 374.1h1.8v1.8h-1.8zM507.6 374.1h3.3v1.8h-3.3zM518.1 374.1h12.3v1.8h-12.3zM534.6 374.1h12.3v1.8h-12.3zM503.1 342.6h3.3v1.8h-3.3zM510.6 342.6h7.8v1.8h-7.8zM522.6 342.6h9.3v1.8h-9.3zM537.6 342.6h6.3v1.8h-6.3zM513.6 323.1h3.3v1.8h-3.3zM521.1 323.1h1.8v1.8h-1.8zM531.6 323.1h4.8v1.8h-4.8zM540.6 323.1h6.3v1.8h-6.3zM506.1 363.6h12.3v1.8h-12.3zM530.1 363.6h1.8v1.8h-1.8zM539.1 363.6h7.8v1.8h-7.8zM507.6 338.1h1.8v1.8h-1.8zM513.6 338.1h4.8v1.8h-4.8zM522.6 338.1h16.8v1.8h-16.8zM543.6 338.1h3.3v1.8h-3.3zM504.6 347.1h13.8v1.8h-13.8zM522.6 347.1h7.8v1.8h-7.8zM539.1 347.1h3.3v1.8h-3.3zM507.6 389.1h6.3v1.8h-6.3zM519.6 389.1h1.8v1.8h-1.8zM515.1 333.6h3.3v1.8h-3.3zM522.6 333.6h4.8v1.8h-4.8zM531.6 333.6h3.3v1.8h-3.3zM539.1 333.6h1.8v1.8h-1.8zM545.1 333.6h1.8v1.8h-1.8zM501.6 378.6h1.8v1.8h-1.8zM539.1 378.6h1.8v1.8h-1.8zM536.1 381.6h1.8v1.8h-1.8zM542.1 381.6h1.8v1.8h-1.8z"/>
<path stroke="#A020F0" stroke-width="2.0" stroke-linecap="round" fill="none" d="M484.2 317.8h0M484.8 331.5h0M484.3 333.1h0M484.7 337.7h0M484.6 338.8h0M484.2 345.1h0M484.3 348.1h0M484.6 349.3h0M484.4 351.0h0M484.7 353.8h0M484.6 355.6h0M484.4 360.1h0M484.3 361.3h0M484.4 370.7h0M484.6 371.7h0M484.5 373.3h0M484.3 377.7h0M484.7 382.5h0M484.2 385.4h0M484.6 388.3h0M484.5 390.1h0M486.3 321.3h0M486.2 328.7h0M485.9 331.2h0M485.9 334.7h0M485.7 335.7h0M486.0 337.7h0M485.8 339.2h0M485.9 340.2h0M486.3 341.7h0M486.2 343.8h0M486.3 346.6h0M486.0 348.2h0M485.8 351.3h0M486.2 352.4h0M485.8 354.0h0M486.2 356.9h0M486.2 358.4h0M485.9 360.2h0M486.2 364.6h0M486.2 369.2h0M485.9 370.4h0M485.9 371.7h0M486.3 373.4h0M486.3 379.7h0M486.1 386.9h0M486.0 389.9h0M487.8 321.0h0M487.4 329.8h0M487.4 331.2h0M487.2 334.2h0M487.5 337.4h0M487.6 342.3h0M487.8 343.7h0M487.8 345.1h0M487.6 346.7h0M487.5 347.9h0M487.4 352.4h0M487.8 356.7h0M487.7 360.0h0M487.5 361.7h0M487.3 364.7h0M487.8 367.8h0M487.4 369.1h0M487.4 371.9h0M487.5 375.0h0M487.8 378.3h0M487.8 382.5h0M487.8 386.8h0M487.5 388.8h0M488.7 326.9h0M488.8 331.5h0M489.1 333.3h0M489.1 334.7h0M489.2 340.8h0M489.3 342.0h0M488.7 343.7h0M489.0 346.6h0M489.2 349.3h0M488.8 350.9h0M488.8 353.8h0M488.8 355.4h0M488.8 357.0h0M489.3 358.5h0M488.8 361.6h0M488.8 362.7h0M488.9 367.4h0M489.1 368.9h0M489.3 370.6h0M489.2 372.2h0M489.1 373.8h0M489.0 374.9h0M488.9 382.7h0M489.3 388.5h0M490.4 312.0h0M490.4 331.4h0M490.8 333.0h0M490.4 334.7h0M490.6 335.7h0M490.2 337.7h0M490.3 338.7h0M490.7 340.7h0M490.8 344.7h0M490.3 348.2h0M490.2 351.3h0M490.2 356.7h0M490.6 358.6h0M490.3 359.8h0M490.8 366.0h0M490.3 367.3h0M490.3 373.3h0M490.7 374.7h0M490.5 379.7h0M490.8 382.6h0M490.4 384.3h0M490.3 389.9h0M492.2 307.7h0M492.2 310.4h0M492.2 337.3h0M492.3 340.5h0M492.3 341.7h0M492.2 346.6h0M491.9 349.8h0M492.2 350.7h0M491.7 352.8h0M492.2 353.8h0M492.0 358.7h0M492.1 359.8h0M492.3 361.8h0M492.1 364.7h0M492.3 367.4h0M491.7 370.7h0M492.1 371.7h0M492.2 374.7h0M491.8 378.2h0M492.0 379.2h0M492.0 384.0h0M492.3 388.3h0M492.2 389.7h0M493.8 333.2h0M493.5 337.7h0M493.6 342.0h0M493.3 343.2h0M493.5 344.8h0M493.5 346.7h0M493.3 348.3h0M493.8 349.8h0M493.6 351.3h0M493.5 352.4h0M493.3 353.7h0M493.6 355.5h0M493.8 360.1h0M493.8 361.6h0M493.6 362.9h0M493.8 365.7h0M493.5 367.3h0M493.2 369.2h0M493.2 379.4h0M493.5 382.2h0M493.8 384.1h0M493.3 386.8h0M493.8 389.8h0M495.2 315.3h0M495.2 333.0h0M495.3 334.3h0M494.8 335.8h0M495.2 337.3h0M495.1 339.0h0M495.0 340.2h0M494.9 341.8h0M495.2 344.8h0M495.0 346.4h0M495.2 347.8h0M495.0 352.8h0M494.8 353.7h0M494.9 355.2h0M494.9 358.5h0M494.8 361.4h0M495.3 363.1h0M494.8 364.2h0M495.2 366.1h0M495.1 367.2h0M494.9 368.7h0M494.8 373.6h0M495.1 374.7h0M494.8 377.9h0M494.7 379.6h0M494.8 382.6h0M494.9 384.1h0M494.8 385.2h0M496.5 322.2h0M496.7 330.2h0M496.4 331.2h0M496.6 335.9h0M496.8 339.0h0M496.2 340.7h0M496.3 343.8h0M496.4 346.6h0M496.2 347.9h0M496.8 352.7h0M496.8 355.6h0M496.3 358.5h0M496.4 359.9h0M496.6 361.3h0M496.5 363.0h0M496.6 364.3h0M496.3 366.2h0M496.3 370.8h0M496.4 371.9h0M496.6 373.7h0M496.7 374.8h0M496.4 376.4h0M496.7 378.2h0M496.3 379.7h0M496.2 386.9h0M496.8 388.5h0M497.9 330.3h0M497.8 331.3h0M498.2 336.3h0M497.8 337.7h0M497.7 339.3h0M497.9 340.6h0M497.7 341.9h0M497.7 343.4h0M498.1 346.6h0M497.7 348.1h0M497.9 349.3h0M498.1 354.1h0M497.7 355.4h0M498.1 357.0h0M497.8 358.4h0M498.3 361.3h0M498.1 364.4h0M498.2 366.2h0M498.2 367.5h0M497.9 370.3h0M498.2 372.2h0M497.9 373.7h0M497.8 377.7h0M497.7 379.4h0M498.0 380.9h0M498.0 387.0h0M498.3 388.3h0M499.4 327.3h0M499.4 328.3h0M499.4 332.8h0M499.7 335.9h0M499.3 339.3h0M499.6 343.3h0M499.2 345.1h0M499.5 346.4h0M499.2 348.0h0M499.2 349.4h0M499.5 351.1h0M499.3 354.0h0M499.7 356.9h0M499.8 361.8h0M499.7 364.3h0M499.2 367.8h0M499.7 369.1h0M499.8 370.3h0M499.2 373.4h0M499.2 375.1h0M499.8 378.3h0M499.7 382.3h0M499.2 388.8h0M501.1 323.9h0M500.8 325.8h0M501.0 327.0h0M501.2 328.7h0M500.8 331.4h0M500.9 334.5h0M501.3 336.0h0M501.2 337.3h0M500.9 339.2h0M501.0 343.2h0M501.2 346.5h0M501.1 347.7h0M501.3 351.2h0M501.2 352.5h0M501.3 353.8h0M500.9 355.5h0M500.8 357.3h0M501.0 361.5h0M501.3 364.3h0M501.2 366.0h0M500.8 367.7h0M501.1 370.4h0M500.7 372.1h0M501.0 375.2h0M500.8 377.7h0M500.7 379.5h0M500.9 381.0h0M501.2 382.7h0M500.8 383.7h0M500.7 385.6h0M500.7 390.2h0M502.4 324.3h0M502.6 325.5h0M502.6 326.8h0M502.4 331.8h0M502.6 334.6h0M502.2 337.4h0M502.7 338.8h0M502.6 340.6h0M502.4 343.2h0M502.4 345.2h0M502.5 346.7h0M502.7 347.7h0M502.7 350.9h0M502.2 354.0h0M502.8 355.4h0M502.3 357.3h0M502.6 358.7h0M502.7 359.8h0M502.2 361.5h0M502.5 364.7h0M502.3 366.0h0M502.8 367.8h0M502.5 368.9h0M502.6 372.1h0M502.8 373.2h0M502.7 374.7h0M502.2 376.5h0M502.3 382.3h0M502.7 385.2h0M502.6 388.8h0M502.2 390.1h0M504.2 322.5h0M503.7 324.0h0M503.9 328.8h0M504.3 330.3h0M504.2 334.6h0M504.3 336.1h0M504.0 337.2h0M503.8 340.6h0M504.0 342.1h0M503.9 347.9h0M504.2 349.6h0M504.0 351.0h0M504.3 354.0h0M504.2 357.2h0M504.2 363.0h0M503.9 364.7h0M503.8 368.8h0M503.8 370.4h0M503.8 372.2h0M504.2 373.4h0M503.8 376.4h0M504.0 377.9h0M504.3 379.4h0M504.3 380.8h0M503.7 382.2h0M504.0 385.3h0M504.3 386.9h0M505.6 309.2h0M505.6 321.1h0M505.4 330.3h0M505.2 331.4h0M505.8 333.1h0M505.8 334.7h0M505.5 336.2h0M505.2 337.6h0M505.3 339.1h0M505.2 342.0h0M505.7 351.2h0M505.3 352.4h0M505.4 354.1h0M505.4 355.6h0M505.4 358.2h0M505.2 359.9h0M505.6 361.8h0M505.6 363.1h0M505.4 364.3h0M505.2 366.0h0M505.5 367.4h0M505.7 369.2h0M505.2 370.6h0M505.2 375.3h0M505.3 376.8h0M505.6 380.9h0M505.7 382.6h0M505.5 384.3h0M505.8 385.5h0M505.5 388.5h0M506.9 316.8h0M507.2 317.7h0M506.9 322.3h0M507.1 325.4h0M507.3 327.2h0M507.0 329.9h0M507.2 331.3h0M506.8 334.5h0M507.2 337.4h0M507.3 338.7h0M506.8 340.2h0M507.1 342.1h0M507.2 343.5h0M507.1 351.2h0M507.2 354.3h0M507.1 355.6h0M507.0 356.8h0M507.0 358.2h0M507.1 370.2h0M507.1 372.3h0M507.0 373.2h0M506.8 375.2h0M507.2 376.5h0M506.7 377.9h0M506.8 379.7h0M506.9 380.8h0M507.0 383.9h0M507.0 388.8h0M506.8 389.7h0M508.6 321.2h0M508.5 325.4h0M508.5 327.3h0M508.8 331.2h0M508.8 334.2h0M508.7 335.9h0M508.3 337.7h0M508.7 340.2h0M508.4 343.4h0M508.4 350.8h0M508.5 353.9h0M508.8 379.6h0M508.6 380.7h0M508.3 382.7h0M508.5 384.3h0M508.3 388.6h0M510.3 314.7h0M509.8 321.2h0M509.7 325.7h0M510.0 326.7h0M510.1 328.7h0M510.0 330.2h0M509.8 331.5h0M510.2 332.8h0M509.9 334.2h0M509.8 338.7h0M510.0 340.3h0M510.3 341.8h0M510.1 343.5h0M510.3 350.8h0M509.7 352.4h0M509.8 353.8h0M509.8 376.7h0M510.3 377.9h0M510.3 379.4h0M510.0 384.3h0M510.2 385.7h0M509.7 388.8h0M511.8 311.9h0M511.5 317.7h0M511.8 321.1h0M511.8 322.8h0M511.6 325.7h0M511.2 331.2h0M511.3 334.3h0M511.6 336.1h0M511.4 338.7h0M511.8 342.2h0M511.5 374.9h0M511.4 376.4h0M511.2 379.7h0M511.5 381.1h0M511.3 382.2h0M511.5 386.9h0M511.8 388.7h0M513.1 316.8h0M512.8 319.2h0M513.2 322.6h0M513.3 324.3h0M512.7 325.6h0M513.2 331.3h0M512.9 333.3h0M513.1 335.7h0M512.7 338.7h0M512.8 340.4h0M513.3 342.0h0M513.0 374.8h0M512.9 377.7h0M513.2 380.7h0M512.9 382.8h0M512.7 383.8h0M513.1 388.3h0M514.6 305.9h0M514.6 313.6h0M514.8 316.2h0M514.3 318.0h0M514.5 319.7h0M514.2 322.7h0M514.7 327.1h0M514.6 328.7h0M514.3 330.1h0M514.2 332.9h0M514.5 334.4h0M514.2 335.9h0M514.3 349.7h0M514.7 350.9h0M514.5 352.7h0M514.8 355.7h0M514.4 356.8h0M514.7 358.4h0M514.7 371.8h0M514.8 373.7h0M514.5 374.8h0M514.6 377.9h0M514.5 379.7h0M514.8 381.1h0M514.5 382.7h0M514.8 383.7h0M514.7 388.3h0M514.6 390.2h0M515.7 310.2h0M516.0 314.7h0M515.9 321.1h0M516.3 322.8h0M515.9 325.2h0M516.3 327.2h0M515.8 329.7h0M515.9 349.3h0M516.2 352.2h0M515.7 355.4h0M516.3 358.3h0M515.8 371.7h0M516.0 375.2h0M515.8 379.5h0M516.1 382.7h0M516.0 384.2h0M516.3 385.2h0M516.1 386.8h0M515.8 389.9h0M517.2 309.1h0M517.2 318.2h0M517.2 321.0h0M517.6 322.8h0M517.2 324.1h0M517.3 325.5h0M517.4 328.5h0M517.4 330.1h0M517.7 331.3h0M517.6 333.0h0M517.3 349.4h0M517.4 352.5h0M517.2 355.2h0M517.5 356.7h0M517.6 358.3h0M517.8 372.2h0M517.2 373.2h0M517.6 375.1h0M517.3 376.8h0M517.2 377.9h0M517.2 379.8h0M517.4 383.7h0M518.7 307.7h0M518.9 314.7h0M519.2 318.2h0M519.2 326.8h0M518.9 328.8h0M519.0 329.7h0M519.1 333.0h0M518.9 334.4h0M519.1 336.3h0M519.2 337.7h0M518.9 339.0h0M519.1 343.3h0M519.2 345.1h0M519.0 346.4h0M518.8 348.3h0M519.3 349.3h0M519.0 350.7h0M519.0 352.5h0M518.8 364.4h0M518.9 365.9h0M519.2 367.7h0M518.7 378.2h0M519.2 382.3h0M518.8 384.3h0M519.3 388.3h0M519.1 389.8h0M520.3 312.1h0M520.5 319.3h0M520.3 320.7h0M520.8 322.6h0M520.3 324.1h0M520.2 325.2h0M520.6 326.7h0M520.4 330.3h0M520.4 331.5h0M520.8 333.2h0M520.7 334.6h0M520.3 339.0h0M520.6 343.7h0M520.3 348.1h0M520.4 352.2h0M520.2 353.8h0M520.4 355.5h0M520.4 356.7h0M520.2 362.8h0M520.4 364.4h0M520.6 367.8h0M520.5 378.3h0M520.3 379.7h0M520.4 381.2h0M520.7 382.2h0M520.7 385.5h0M520.3 388.3h0M521.8 315.3h0M522.1 318.3h0M521.7 321.3h0M522.0 334.2h0M522.0 336.2h0M521.8 337.8h0M522.1 338.7h0M521.7 343.2h0M522.3 344.9h0M521.7 346.5h0M521.7 348.1h0M521.8 352.6h0M521.7 357.2h0M521.7 362.7h0M521.8 366.3h0M522.2 367.8h0M522.0 379.6h0M521.8 382.6h0M522.0 384.1h0M522.0 385.4h0M522.2 387.0h0M521.9 388.3h0M522.0 389.8h0M523.2 316.6h0M523.7 318.1h0M523.5 319.6h0M523.4 321.2h0M523.6 322.2h0M523.3 323.7h0M523.4 352.3h0M523.2 354.1h0M523.8 355.7h0M523.8 357.0h0M523.5 358.2h0M523.3 360.3h0M523.8 361.5h0M523.6 363.1h0M523.3 364.4h0M523.3 365.8h0M523.6 379.5h0M523.5 380.7h0M523.2 382.8h0M523.3 385.7h0M523.7 387.1h0M523.7 388.3h0M525.3 315.1h0M525.0 316.8h0M524.9 318.1h0M525.0 319.3h0M525.1 320.9h0M525.3 323.8h0M525.0 358.5h0M525.0 361.5h0M524.8 363.0h0M525.0 364.2h0M524.9 370.4h0M524.8 372.3h0M524.7 373.5h0M524.9 376.8h0M525.0 377.9h0M524.8 379.6h0M525.1 380.9h0M525.0 382.7h0M525.0 383.7h0M524.8 385.3h0M525.1 386.9h0M524.8 389.8h0M526.6 315.1h0M526.2 316.4h0M526.6 319.2h0M526.8 320.9h0M526.5 322.3h0M526.2 324.1h0M526.2 358.3h0M526.6 360.3h0M526.5 361.2h0M526.8 364.2h0M526.5 365.8h0M526.2 367.6h0M526.6 370.6h0M526.6 373.4h0M526.3 376.8h0M526.7 381.1h0M526.4 385.7h0M526.5 387.3h0M526.2 388.5h0M526.7 389.7h0M528.0 319.5h0M528.1 320.7h0M528.3 322.7h0M527.9 323.7h0M528.0 334.6h0M528.1 336.0h0M528.3 337.4h0M528.2 361.3h0M528.2 363.3h0M528.3 364.2h0M527.7 367.7h0M527.9 370.2h0M527.9 372.2h0M528.3 373.7h0M528.0 376.3h0M527.8 377.8h0M527.9 379.7h0M528.2 380.7h0M528.1 383.8h0M527.9 385.7h0M527.7 386.9h0M528.1 390.0h0M529.5 313.3h0M529.3 316.3h0M529.8 319.7h0M529.5 320.7h0M529.2 324.0h0M529.8 328.4h0M529.8 330.3h0M529.7 331.3h0M529.7 334.8h0M529.7 337.6h0M529.2 353.7h0M529.2 355.7h0M529.8 357.1h0M529.6 358.4h0M529.2 360.2h0M529.6 361.6h0M529.5 364.2h0M529.5 365.7h0M529.5 367.2h0M529.4 370.5h0M529.4 373.8h0M529.4 376.6h0M529.3 379.8h0M529.5 381.2h0M529.6 382.7h0M529.2 385.5h0M529.6 386.9h0M529.5 388.6h0M531.2 310.8h0M530.9 312.3h0M530.7 317.8h0M530.7 319.3h0M531.1 320.8h0M530.9 322.2h0M530.7 324.2h0M530.7 328.2h0M531.3 331.7h0M531.1 334.6h0M531.0 335.8h0M531.1 337.6h0M531.0 345.3h0M530.8 346.5h0M531.1 348.0h0M531.0 353.9h0M530.9 357.1h0M530.8 358.6h0M531.3 361.7h0M531.0 370.2h0M530.9 371.8h0M530.9 373.2h0M531.2 375.3h0M530.8 376.6h0M531.3 378.1h0M530.7 379.3h0M531.3 380.8h0M530.7 382.8h0M531.2 384.2h0M530.8 385.2h0M530.7 386.8h0M531.3 388.7h0M531.3 389.8h0M532.7 310.5h0M532.2 313.2h0M532.7 316.3h0M532.3 318.2h0M532.3 319.7h0M532.8 328.6h0M532.7 330.0h0M532.5 331.4h0M532.6 340.4h0M532.5 341.9h0M532.6 343.7h0M532.7 344.7h0M532.6 347.8h0M532.7 353.7h0M532.5 355.2h0M532.6 357.3h0M532.5 358.7h0M532.8 360.3h0M532.3 361.3h0M532.4 363.1h0M532.5 364.8h0M532.2 368.9h0M532.5 370.2h0M532.6 371.9h0M532.5 373.4h0M532.3 376.2h0M532.5 379.4h0M532.6 382.3h0M532.5 383.9h0M532.2 385.4h0M532.5 388.7h0M534.1 310.2h0M533.8 311.9h0M534.3 314.7h0M534.2 319.8h0M533.9 340.5h0M534.3 345.3h0M534.0 346.3h0M534.0 348.2h0M534.1 357.3h0M534.2 358.6h0M533.9 359.7h0M534.0 361.4h0M534.2 364.7h0M534.0 366.0h0M533.7 367.3h0M534.0 369.0h0M533.9 372.0h0M534.2 373.5h0M534.3 374.7h0M534.0 376.8h0M534.3 379.2h0M533.9 381.2h0M534.1 382.8h0M534.0 386.8h0M533.8 388.7h0M533.7 389.8h0M535.8 306.2h0M535.3 311.8h0M535.7 316.5h0M535.6 318.3h0M535.5 319.2h0M535.5 332.8h0M535.8 334.6h0M535.7 336.0h0M535.5 337.4h0M535.3 340.2h0M535.7 341.9h0M535.4 345.2h0M535.3 347.9h0M535.5 349.4h0M535.6 351.2h0M535.2 356.7h0M535.2 360.1h0M535.5 361.7h0M535.8 363.1h0M535.2 364.7h0M535.8 366.2h0M535.4 369.0h0M535.2 370.5h0M535.7 371.9h0M535.5 376.7h0M535.4 377.9h0M535.3 379.8h0M535.7 380.9h0M535.4 382.6h0M535.8 384.1h0M535.2 385.3h0M535.6 386.8h0M535.3 388.5h0M537.1 310.5h0M537.2 314.8h0M537.2 318.0h0M537.0 319.4h0M536.9 324.1h0M537.3 325.8h0M536.8 326.8h0M536.9 333.2h0M537.1 337.2h0M537.2 341.7h0M536.7 343.7h0M536.9 344.7h0M536.9 348.2h0M536.8 351.3h0M537.3 357.2h0M537.2 358.8h0M536.9 361.2h0M536.9 362.7h0M537.3 365.7h0M537.2 367.6h0M537.0 368.7h0M537.1 376.4h0M536.9 380.9h0M537.3 383.7h0M537.3 387.2h0M538.7 307.8h0M538.5 310.5h0M538.5 312.0h0M538.7 319.4h0M538.5 324.1h0M538.2 327.3h0M538.4 332.9h0M538.4 334.7h0M538.8 336.2h0M538.6 337.4h0M538.4 348.2h0M538.4 349.2h0M538.5 351.1h0M538.6 358.7h0M538.7 359.9h0M538.2 361.2h0M538.5 363.3h0M538.4 364.4h0M538.4 366.1h0M538.6 376.5h0M538.5 377.9h0M538.4 379.4h0M538.8 380.9h0M538.4 382.3h0M538.7 383.8h0M538.3 385.6h0M538.5 388.3h0M538.6 389.8h0M540.0 314.8h0M540.3 316.2h0M539.8 318.2h0M540.0 319.2h0M540.1 323.7h0M540.2 325.5h0M539.7 327.0h0M539.8 336.0h0M540.1 337.2h0M540.0 338.8h0M540.0 382.2h0M540.3 385.7h0M539.8 386.9h0M540.3 388.8h0M539.7 390.1h0M541.8 315.1h0M541.3 316.6h0M541.8 317.8h0M541.6 331.2h0M541.2 332.7h0M541.3 334.7h0M541.3 336.3h0M541.8 339.2h0M541.8 376.3h0M541.6 378.3h0M541.6 379.5h0M541.4 382.7h0M541.4 383.8h0M541.5 387.2h0M541.6 390.2h0M543.0 318.1h0M543.2 331.8h0M543.3 334.7h0M542.9 336.0h0M542.7 337.8h0M543.1 338.9h0M542.7 347.7h0M543.3 349.7h0M542.9 350.9h0M543.2 376.6h0M542.7 379.7h0M543.0 384.3h0M543.3 386.7h0M543.0 388.2h0M544.3 313.6h0M544.8 316.2h0M544.3 317.9h0M544.8 319.2h0M544.4 331.5h0M544.4 333.3h0M544.8 334.4h0M544.5 342.3h0M544.7 343.5h0M544.2 345.2h0M544.5 347.9h0M544.6 351.2h0M544.4 352.8h0M544.6 354.0h0M544.2 355.8h0M544.2 376.6h0M544.6 378.1h0M544.7 379.5h0M544.5 381.0h0M544.6 382.7h0M544.2 383.9h0M544.5 387.1h0M544.4 388.2h0M546.3 312.2h0M546.2 314.9h0M546.1 316.4h0M546.0 319.7h0M546.2 341.8h0M545.8 345.2h0M546.0 347.8h0M546.3 349.8h0M545.7 351.0h0M546.0 352.8h0M545.8 355.4h0M546.0 378.3h0M545.9 381.0h0M546.0 382.7h0M546.2 387.0h0M545.9 388.8h0M481.7 313.5h0M481.7 315.0h0M481.7 316.5h0M481.7 318.0h0M481.7 319.5h0M481.7 321.0h0M481.7 322.5h0M481.7 324.0h0M481.7 325.5h0M481.7 327.0h0M481.7 328.5h0M481.7 330.0h0M481.7 331.5h0M481.7 333.0h0M481.7 334.5h0M481.7 336.0h0M481.7 337.5h0M481.7 339.0h0M481.7 340.5h0M481.7 342.0h0M481.7 343.5h0M481.7 345.0h0M481.7 346.5h0M481.7 348.0h0M481.7 349.5h0M481.7 351.0h0M481.7 352.5h0M481.7 354.0h0M481.7 355.5h0M481.7 357.0h0M481.7 358.5h0M481.7 360.0h0M481.7 361.5h0M481.7 363.0h0M481.7 364.5h0M481.7 366.0h0M481.7 367.5h0M481.7 369.0h0M481.7 370.5h0M481.7 372.0h0M481.7 373.5h0M481.7 375.0h0M481.7 376.5h0M481.7 378.0h0M481.7 379.5h0M481.7 381.0h0M481.7 382.5h0M481.7 384.0h0M481.7 385.5h0M481.7 387.0h0M481.7 388.5h0M481.7 390.0h0M481.7 308.6h0"/>
<path fill="#666666" d="M548.1 327.6h67.8v1.8h-67.8zM548.1 350.1h67.8v1.8h-67.8zM548.1 344.1h67.8v1.8h-67.8zM548.1 363.6h69.3v1.8h-69.3zM602.1 311.1h31.8v1.8h-31.8zM548.1 374.1h67.8v1.8h-67.8zM548.1 329.1h67.8v1.8h-67.8zM548.1 323.1h75.3v1.8h-75.3zM548.1 345.6h67.8v1.8h-67.8zM548.1 359.1h69.3v1.8h-69.3zM548.1 369.6h67.8v1.8h-67.8zM548.1 320.1h76.8v1.8h-76.8zM548.1 365.1h67.8v1.8h-67.8zM588.6 314.1h42.3v1.8h-42.3zM548.1 377.1h67.8v1.8h-67.8zM548.1 324.6h75.3v1.8h-75.3zM548.1 378.6h67.8v1.8h-67.8zM548.1 372.6h67.8v1.8h-67.8zM636.6 294.6h16.8v1.8h-16.8zM548.1 338.1h67.8v1.8h-67.8zM548.1 360.6h69.3v1.8h-69.3zM548.1 354.6h67.8v1.8h-67.8zM548.1 348.6h67.8v1.8h-67.8zM548.1 368.1h67.8v1.8h-67.8zM578.1 315.6h52.8v1.8h-52.8zM630.6 296.1h19.8v1.8h-19.8zM548.1 339.6h67.8v1.8h-67.8zM548.1 330.6h67.8v1.8h-67.8zM548.1 335.1h67.8v1.8h-67.8zM548.1 383.1h7.8v1.8h-7.8zM560.1 383.1h3.3v1.8h-3.3zM567.6 383.1h1.8v1.8h-1.8zM585.6 383.1h6.3v1.8h-6.3zM596.1 383.1h9.3v1.8h-9.3zM626.1 299.1h22.8v1.8h-22.8zM548.1 342.6h69.3v1.8h-69.3zM548.1 326.1h70.8v1.8h-70.8zM548.1 333.6h67.8v1.8h-67.8zM548.1 380.1h67.8v1.8h-67.8zM606.6 309.6h28.8v1.8h-28.8zM579.6 389.1h4.8v1.8h-4.8zM605.1 389.1h1.8v1.8h-1.8zM548.1 357.6h67.8v1.8h-67.8zM548.1 353.1h67.8v1.8h-67.8zM548.1 362.1h69.3v1.8h-69.3zM624.6 300.6h24.3v1.8h-24.3zM560.1 318.6h67.8v1.8h-67.8zM615.6 305.1h25.8v1.8h-25.8zM548.1 381.6h7.8v1.8h-7.8zM560.1 381.6h3.3v1.8h-3.3zM567.6 381.6h1.8v1.8h-1.8zM573.6 381.6h39.3v1.8h-39.3zM647.1 290.1h10.8v1.8h-10.8zM548.1 347.1h67.8v1.8h-67.8zM642.6 291.6h12.3v1.8h-12.3zM548.1 351.6h67.8v1.8h-67.8zM548.1 366.6h67.8v1.8h-67.8zM548.1 375.6h67.8v1.8h-67.8zM611.1 306.6h28.8v1.8h-28.8zM548.1 371.1h67.8v1.8h-67.8zM548.1 332.1h67.8v1.8h-67.8zM548.1 336.6h67.8v1.8h-67.8zM600.6 312.6h33.3v1.8h-33.3zM617.1 303.6h27.3v1.8h-27.3zM548.1 356.1h67.8v1.8h-67.8zM563.1 317.1h64.8v1.8h-64.8zM611.1 308.1h28.8v1.8h-28.8zM659.1 284.1h3.3v1.8h-3.3zM548.1 321.6h75.3v1.8h-75.3zM638.1 293.1h16.8v1.8h-16.8zM630.6 297.6h19.8v1.8h-19.8zM548.1 341.1h69.3v1.8h-69.3zM621.6 302.1h24.3v1.8h-24.3zM548.1 384.6h7.8v1.8h-7.8zM560.1 384.6h3.3v1.8h-3.3zM585.6 384.6h4.8v1.8h-4.8zM602.1 384.6h3.3v1.8h-3.3zM548.1 386.1h3.3v1.8h-3.3zM656.1 285.6h4.8v1.8h-4.8zM579.6 387.6h4.8v1.8h-4.8zM605.1 387.6h1.8v1.8h-1.8zM650.1 288.6h9.3v1.8h-9.3zM653.1 287.1h6.3v1.8h-6.3z"/>
<path stroke="#666666" stroke-width="2.0" stroke-linecap="round" fill="none" d="M547.6 315.1h0M547.6 316.2h0M547.5 319.5h0M547.5 321.0h0M547.5 322.5h0M547.5 324.0h0M547.5 325.5h0M547.5 327.0h0M547.5 328.5h0M547.5 330.0h0M547.5 331.5h0M547.5 333.0h0M547.5 334.5h0M547.5 336.0h0M547.5 337.5h0M547.5 339.0h0M547.5 340.5h0M547.5 342.0h0M547.5 343.5h0M547.5 345.0h0M547.5 346.5h0M547.5 348.0h0M547.5 349.5h0M547.5 351.0h0M547.5 352.5h0M547.5 354.0h0M547.5 355.5h0M547.5 357.0h0M547.5 358.5h0M547.5 360.0h0M547.5 361.5h0M547.5 363.0h0M547.5 364.5h0M547.5 366.0h0M547.5 367.5h0M547.5 369.0h0M547.5 370.5h0M547.5 372.0h0M547.5 373.5h0M547.5 375.0h0M547.5 376.5h0M547.5 378.0h0M547.5 379.5h0M547.5 381.0h0M547.5 382.5h0M547.8 384.1h0M547.7 385.6h0M547.6 387.2h0M547.3 388.8h0M548.7 317.7h0M549.0 319.5h0M549.2 388.7h0M549.0 389.8h0M550.4 316.7h0M550.3 317.7h0M550.5 319.5h0M550.5 388.4h0M550.6 390.0h0M552.0 316.6h0M552.0 319.5h0M552.2 386.8h0M552.2 388.3h0M553.2 316.6h0M553.5 318.1h0M553.5 319.5h0M553.7 386.9h0M553.8 389.7h0M554.7 310.7h0M555.3 315.0h0M555.3 316.7h0M555.0 319.5h0M554.8 387.3h0M554.7 388.2h0M554.7 390.0h0M556.4 303.3h0M556.6 318.2h0M556.5 319.5h0M556.5 382.5h0M556.6 383.9h0M556.4 385.3h0M556.5 386.8h0M556.4 388.4h0M556.8 390.0h0M558.3 313.2h0M558.3 314.7h0M558.0 316.6h0M558.0 319.5h0M558.0 382.5h0M557.7 385.3h0M557.8 387.1h0M557.8 390.3h0M559.4 286.4h0M559.4 317.8h0M559.5 319.5h0M559.5 382.5h0M559.4 384.0h0M559.5 385.6h0M559.6 387.1h0M559.3 388.2h0M559.6 389.9h0M560.8 303.3h0M561.3 312.0h0M560.7 313.5h0M561.0 318.0h0M560.8 386.7h0M560.9 390.0h0M562.2 312.3h0M562.7 316.6h0M562.5 318.0h0M562.3 386.8h0M564.3 312.0h0M564.1 316.2h0M564.0 382.5h0M563.9 383.9h0M564.2 385.6h0M564.2 386.8h0M564.2 390.1h0M565.5 307.8h0M565.6 316.6h0M565.5 382.5h0M565.4 385.8h0M565.4 387.1h0M565.3 388.8h0M565.7 389.8h0M567.0 308.8h0M566.9 316.2h0M567.0 382.5h0M567.1 384.2h0M567.3 385.8h0M567.0 387.1h0M566.9 388.7h0M567.0 390.0h0M568.7 309.0h0M568.2 315.2h0M568.6 316.3h0M568.5 385.5h0M568.6 389.9h0M570.2 314.7h0M570.0 316.2h0M570.0 382.5h0M570.2 383.8h0M570.2 385.5h0M569.9 387.3h0M569.9 388.5h0M571.8 307.3h0M571.5 310.3h0M571.5 316.5h0M571.5 382.5h0M571.5 385.4h0M571.5 387.3h0M571.7 388.4h0M571.3 390.2h0M573.2 310.2h0M572.8 313.8h0M573.0 316.5h0M573.0 382.5h0M573.1 384.0h0M572.7 385.4h0M573.1 386.9h0M572.8 390.3h0M574.3 313.5h0M574.5 316.5h0M574.3 384.0h0M574.6 388.2h0M574.2 390.0h0M575.9 313.7h0M576.0 316.5h0M575.7 384.2h0M575.8 385.4h0M576.2 387.2h0M575.8 389.9h0M577.2 308.7h0M577.3 311.7h0M577.6 315.2h0M577.5 316.5h0M577.6 383.9h0M577.6 385.2h0M577.2 387.0h0M577.5 388.6h0M579.0 315.0h0M579.3 384.1h0M579.1 387.3h0M579.1 388.2h0M579.2 390.2h0M580.3 301.8h0M580.5 315.0h0M580.6 384.3h0M580.8 385.7h0M580.7 386.9h0M582.1 311.8h0M582.0 315.0h0M582.1 383.7h0M582.3 387.2h0M583.7 312.2h0M583.2 313.8h0M583.5 315.0h0M583.7 383.8h0M583.2 387.3h0M584.8 310.3h0M585.0 315.0h0M585.2 383.8h0M584.7 385.4h0M584.8 387.2h0M585.0 388.6h0M585.1 389.9h0M586.2 308.8h0M586.2 310.2h0M586.5 315.0h0M586.5 386.9h0M586.2 388.6h0M587.7 311.8h0M587.7 313.8h0M588.0 315.0h0M587.9 387.2h0M589.2 307.7h0M589.3 308.9h0M589.5 313.5h0M589.8 387.1h0M589.2 388.8h0M589.7 389.8h0M591.2 311.7h0M591.0 313.5h0M590.9 385.6h0M591.3 386.8h0M591.2 389.9h0M592.4 309.0h0M592.5 310.8h0M592.5 313.5h0M592.8 384.0h0M592.2 385.6h0M592.2 388.7h0M592.5 389.7h0M593.7 300.3h0M593.8 310.7h0M594.0 313.5h0M593.8 384.1h0M594.3 387.0h0M593.8 388.6h0M595.6 293.7h0M595.3 305.8h0M595.6 310.3h0M595.6 312.0h0M595.5 313.5h0M595.7 384.0h0M595.2 385.6h0M595.4 386.7h0M595.8 388.5h0M596.8 307.8h0M597.0 310.7h0M597.0 313.5h0M597.3 385.6h0M597.0 388.8h0M597.2 390.2h0M598.2 298.2h0M598.6 304.6h0M598.7 310.4h0M598.5 313.5h0M598.8 385.8h0M598.3 386.7h0M598.4 388.7h0M600.1 295.8h0M600.2 299.8h0M600.0 312.0h0M600.0 313.5h0M600.3 385.7h0M600.1 388.3h0M599.9 390.3h0M601.5 300.3h0M601.5 304.7h0M601.2 305.8h0M601.7 307.6h0M601.6 310.7h0M601.5 312.0h0M601.2 385.3h0M601.3 387.0h0M601.2 388.5h0M601.7 389.7h0M602.9 308.8h0M603.1 310.8h0M603.3 387.1h0M603.2 389.7h0M604.3 289.7h0M604.4 307.5h0M604.5 310.5h0M604.2 387.0h0M604.2 388.3h0M604.5 389.9h0M606.3 302.9h0M606.0 307.2h0M606.3 308.8h0M606.0 310.5h0M605.7 384.3h0M606.2 385.3h0M605.8 387.1h0M607.7 307.6h0M607.5 309.0h0M607.5 383.7h0M607.6 387.0h0M607.8 388.6h0M607.3 389.8h0M609.3 303.3h0M609.0 305.8h0M609.0 309.0h0M609.1 383.9h0M609.3 385.3h0M608.8 387.3h0M609.2 389.9h0M610.4 305.7h0M610.5 307.5h0M610.5 309.0h0M610.4 383.7h0M610.6 385.4h0M610.6 386.7h0M610.5 388.6h0M610.3 389.9h0M612.2 282.2h0M611.8 301.6h0M612.3 303.3h0M612.0 306.2h0M612.1 384.1h0M612.1 387.0h0M612.1 389.9h0M613.5 306.0h0M613.5 382.5h0M613.7 383.7h0M613.2 385.8h0M613.7 387.3h0M613.8 388.2h0M613.7 389.9h0M615.1 304.2h0M615.0 306.0h0M615.0 382.5h0M614.7 385.2h0M614.9 387.3h0M615.2 389.7h0M616.3 295.3h0M616.2 297.2h0M616.7 302.9h0M616.5 304.5h0M616.5 328.5h0M616.5 330.0h0M616.5 331.5h0M616.5 333.0h0M616.5 334.5h0M616.5 336.0h0M616.5 337.5h0M616.5 339.0h0M616.5 340.5h0M616.5 345.0h0M616.5 346.5h0M616.5 348.0h0M616.5 349.5h0M616.5 351.0h0M616.5 352.5h0M616.5 354.0h0M616.5 355.5h0M616.5 357.0h0M616.5 358.5h0M616.5 366.0h0M616.5 367.5h0M616.5 369.0h0M616.5 370.5h0M616.5 372.0h0M616.5 373.5h0M616.5 375.0h0M616.5 376.5h0M616.5 378.0h0M616.5 379.5h0M616.5 381.0h0M616.5 382.5h0M616.3 383.9h0M616.3 385.3h0M616.7 387.3h0M616.4 388.5h0M616.6 390.3h0M617.9 297.0h0M618.1 301.6h0M618.0 303.3h0M618.0 328.5h0M618.2 333.0h0M618.0 336.2h0M617.9 340.6h0M618.0 341.9h0M618.1 343.8h0M618.1 345.0h0M617.7 349.4h0M618.1 351.3h0M618.2 355.2h0M618.0 358.6h0M618.3 359.7h0M618.1 361.3h0M618.3 363.0h0M617.9 364.3h0M617.7 366.3h0M617.7 369.3h0M618.3 372.0h0M618.0 374.7h0M618.3 377.8h0M618.2 381.1h0M617.8 385.3h0M617.9 386.9h0M618.0 390.0h0M619.2 297.3h0M619.3 300.2h0M619.5 303.0h0M619.5 327.0h0M619.6 328.5h0M619.4 329.9h0M619.7 331.2h0M619.7 332.7h0M619.3 339.2h0M619.7 341.8h0M619.6 343.2h0M619.3 348.0h0M619.6 350.7h0M619.3 352.2h0M619.8 355.8h0M619.5 361.5h0M619.2 371.8h0M619.2 381.0h0M619.8 382.8h0M620.8 300.3h0M621.0 301.5h0M621.0 303.0h0M621.0 327.0h0M620.9 334.6h0M621.1 337.2h0M621.1 340.6h0M621.0 341.9h0M620.9 343.2h0M621.2 352.6h0M620.9 353.7h0M621.3 356.7h0M621.0 360.1h0M621.2 364.5h0M621.0 366.3h0M621.1 367.5h0M621.2 371.7h0M620.7 374.8h0M621.3 377.8h0M621.1 381.0h0M621.3 385.5h0M622.2 292.3h0M622.5 301.5h0M622.3 327.0h0M622.7 328.7h0M622.7 339.2h0M622.3 342.2h0M622.5 349.4h0M622.5 358.8h0M622.4 365.8h0M622.6 373.4h0M622.6 379.2h0M622.8 381.3h0M624.3 297.3h0M624.0 300.0h0M624.0 301.5h0M624.0 322.5h0M624.0 324.0h0M624.1 325.4h0M623.9 326.8h0M624.1 328.5h0M623.8 334.5h0M624.1 346.7h0M623.7 362.8h0M623.8 367.8h0M624.2 369.1h0M624.2 373.7h0M624.3 374.9h0M624.2 382.5h0M624.0 383.8h0M625.2 293.7h0M625.7 295.8h0M625.3 296.7h0M625.4 298.3h0M625.5 300.0h0M625.5 321.0h0M625.5 322.5h0M625.6 325.3h0M625.3 328.8h0M625.6 337.6h0M625.5 343.5h0M625.8 354.0h0M625.8 358.2h0M625.2 384.1h0M626.7 296.9h0M627.0 298.5h0M627.0 321.0h0M626.8 339.1h0M626.9 348.3h0M627.3 378.3h0M628.6 294.0h0M628.3 295.4h0M628.5 298.5h0M628.5 318.0h0M628.5 319.5h0M628.4 321.1h0M628.5 351.2h0M628.5 371.7h0M629.7 295.3h0M630.0 297.0h0M630.0 298.5h0M630.0 318.0h0M629.7 322.6h0M630.3 324.3h0M630.1 334.5h0M629.8 344.8h0M630.2 373.4h0M630.1 377.9h0M631.3 295.4h0M631.5 315.0h0M631.5 316.5h0M631.3 317.8h0M631.7 319.7h0M631.7 321.1h0M631.8 323.7h0M631.4 346.7h0M631.7 352.5h0M631.8 354.2h0M631.6 363.1h0M631.6 365.9h0M632.9 291.0h0M633.2 294.1h0M633.0 295.5h0M633.0 315.0h0M633.0 361.7h0M632.7 368.8h0M633.2 382.4h0M634.4 292.8h0M634.5 295.5h0M634.5 312.0h0M634.5 313.5h0M634.3 315.2h0M634.7 317.9h0M634.3 320.8h0M634.3 355.6h0M635.7 291.3h0M636.0 294.0h0M636.0 295.5h0M636.0 310.5h0M636.0 312.0h0M635.9 316.3h0M637.5 282.2h0M637.3 292.3h0M637.5 294.0h0M637.5 310.5h0M637.6 314.9h0M637.3 316.6h0M637.8 317.8h0M638.8 290.7h0M639.0 292.5h0M639.1 310.2h0M638.9 312.2h0M639.2 313.8h0M640.5 289.3h0M640.5 292.5h0M640.5 307.5h0M640.2 309.1h0M640.8 310.4h0M640.7 312.3h0M640.5 322.6h0M641.7 286.6h0M641.8 288.0h0M641.7 291.1h0M642.0 292.5h0M642.0 306.0h0M642.0 307.5h0M642.3 310.8h0M642.0 329.7h0M641.9 341.8h0M643.2 289.5h0M643.5 291.0h0M643.5 306.0h0M643.4 355.2h0M643.4 376.6h0M644.9 272.8h0M645.0 291.0h0M645.0 304.5h0M644.8 305.8h0M646.4 286.6h0M646.3 288.3h0M646.5 289.5h0M646.5 291.0h0M646.5 303.0h0M646.6 304.4h0M646.7 312.2h0M646.3 313.7h0M647.7 276.0h0M648.0 289.5h0M647.9 303.0h0M648.3 309.3h0M647.9 318.2h0M649.5 288.0h0M649.5 289.5h0M649.5 300.0h0M649.4 301.8h0M649.7 303.0h0M651.0 288.0h0M651.0 297.0h0M651.0 298.5h0M651.2 299.7h0M651.3 303.3h0M652.5 286.5h0M652.5 288.0h0M652.5 297.0h0M654.1 283.7h0M654.0 286.5h0M654.0 295.5h0M654.2 296.8h0M655.4 283.5h0M655.3 285.1h0M655.5 286.5h0M655.5 292.5h0M655.5 294.0h0M655.3 295.4h0M655.8 313.2h0M657.1 278.9h0M657.0 285.0h0M657.0 292.5h0M657.0 297.1h0M657.2 304.5h0M658.8 283.4h0M658.5 285.0h0M658.5 291.0h0M658.3 292.4h0M658.8 295.7h0M660.1 280.2h0M660.0 283.5h0M660.0 288.0h0M660.0 289.5h0M659.7 291.3h0M661.5 283.5h0M661.5 286.5h0M661.3 287.9h0M661.4 290.8h0M663.0 283.5h0M663.0 285.0h0M662.8 286.6h0M663.0 324.1h0M664.5 283.5h0M664.3 285.2h0M664.4 289.6h0M664.8 329.9h0"/>
<line x1="472.7" y1="457.3" x2="678.1" y2="272.5" stroke="#ff0000" stroke-width="1.7" stroke-dasharray="5.9 6.4" stroke-dashoffset="7.86"/>
</svg>
</body></html>
